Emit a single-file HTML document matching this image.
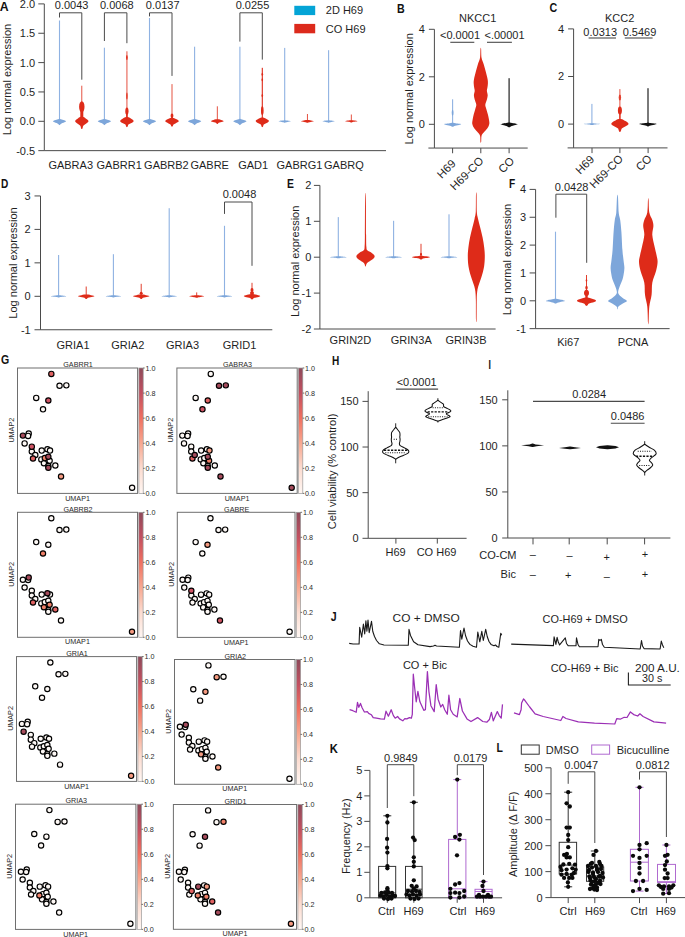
<!DOCTYPE html>
<html><head><meta charset="utf-8"><style>
html,body{margin:0;padding:0;background:#fff;width:685px;height:937px;overflow:hidden}
svg{display:block}
text{font-family:"Liberation Sans", sans-serif}
</style></head><body>
<svg width="685" height="937" viewBox="0 0 685 937">
<rect width="685" height="937" fill="#fff"/>
<text x="-0.20" y="10.89" font-size="12.2" text-anchor="start" font-weight="bold" fill="#111" textLength="8.9" lengthAdjust="spacingAndGlyphs">A</text>
<line x1="44.30" y1="3.90" x2="44.30" y2="150.65" stroke="#4a4a4a" stroke-width="1.0"/>
<line x1="38.30" y1="3.90" x2="44.30" y2="3.90" stroke="#4a4a4a" stroke-width="1.0"/>
<text x="35.10" y="7.86" font-size="11" text-anchor="end" font-weight="normal" fill="#1f1f1f">2.0</text>
<line x1="38.30" y1="33.25" x2="44.30" y2="33.25" stroke="#4a4a4a" stroke-width="1.0"/>
<text x="35.10" y="37.21" font-size="11" text-anchor="end" font-weight="normal" fill="#1f1f1f">1.5</text>
<line x1="38.30" y1="62.60" x2="44.30" y2="62.60" stroke="#4a4a4a" stroke-width="1.0"/>
<text x="35.10" y="66.56" font-size="11" text-anchor="end" font-weight="normal" fill="#1f1f1f">1.0</text>
<line x1="38.30" y1="91.95" x2="44.30" y2="91.95" stroke="#4a4a4a" stroke-width="1.0"/>
<text x="35.10" y="95.91" font-size="11" text-anchor="end" font-weight="normal" fill="#1f1f1f">0.5</text>
<line x1="38.30" y1="121.30" x2="44.30" y2="121.30" stroke="#4a4a4a" stroke-width="1.0"/>
<text x="35.10" y="125.26" font-size="11" text-anchor="end" font-weight="normal" fill="#1f1f1f">0.0</text>
<line x1="38.30" y1="150.65" x2="44.30" y2="150.65" stroke="#4a4a4a" stroke-width="1.0"/>
<text x="35.10" y="154.61" font-size="11" text-anchor="end" font-weight="normal" fill="#1f1f1f">-0.5</text>
<line x1="44.30" y1="150.65" x2="386.00" y2="150.65" stroke="#4a4a4a" stroke-width="1.0"/>
<text x="6.60" y="83.46" font-size="11" text-anchor="middle" font-weight="normal" fill="#1f1f1f" transform="rotate(-90 6.60 79.50)">Log normal expression</text>
<text x="70.70" y="168.76" font-size="11" text-anchor="middle" font-weight="normal" fill="#1f1f1f">GABRA3</text>
<text x="119.20" y="168.76" font-size="11" text-anchor="middle" font-weight="normal" fill="#1f1f1f">GABRR1</text>
<text x="166.40" y="168.76" font-size="11" text-anchor="middle" font-weight="normal" fill="#1f1f1f">GABRB2</text>
<text x="209.70" y="168.76" font-size="11" text-anchor="middle" font-weight="normal" fill="#1f1f1f">GABRE</text>
<text x="253.20" y="168.76" font-size="11" text-anchor="middle" font-weight="normal" fill="#1f1f1f">GAD1</text>
<text x="299.50" y="168.76" font-size="11" text-anchor="middle" font-weight="normal" fill="#1f1f1f">GABRG1</text>
<text x="343.90" y="168.76" font-size="11" text-anchor="middle" font-weight="normal" fill="#1f1f1f">GABRQ</text>
<rect x="58.95" y="20.50" width="1.10" height="100.80" fill="#8fb2e2" fill-opacity="1.0"/>
<path d="M60.09 118.90 C60.58 119.02 61.00 119.33 61.81 119.60 C62.62 119.87 64.26 120.22 64.98 120.50 C65.69 120.78 66.18 121.02 66.10 121.30 C66.02 121.58 65.13 121.90 64.52 122.20 C63.90 122.50 63.02 122.80 62.40 123.10 C61.79 123.40 61.25 123.67 60.82 124.00 C60.39 124.33 60.10 124.92 59.83 125.10 C59.55 125.28 59.45 125.28 59.17 125.10 C58.90 124.92 58.61 124.33 58.18 124.00 C57.75 123.67 57.21 123.40 56.60 123.10 C55.98 122.80 55.10 122.50 54.48 122.20 C53.87 121.90 52.98 121.58 52.90 121.30 C52.82 121.02 53.31 120.78 54.02 120.50 C54.74 120.22 56.38 119.87 57.19 119.60 C58.00 119.33 58.42 119.02 58.91 118.90 C59.39 118.78 59.61 118.78 60.09 118.90 Z" fill="#7da6da" stroke="none" stroke-width="0" stroke-linejoin="round"/>
<rect x="103.85" y="47.70" width="1.10" height="73.60" fill="#8fb2e2" fill-opacity="1.0"/>
<path d="M104.99 118.90 C105.48 119.02 105.90 119.33 106.71 119.60 C107.52 119.87 109.16 120.22 109.88 120.50 C110.59 120.78 111.08 121.02 111.00 121.30 C110.92 121.58 110.03 121.90 109.42 122.20 C108.80 122.50 107.92 122.80 107.30 123.10 C106.69 123.40 106.15 123.67 105.72 124.00 C105.29 124.33 105.00 124.92 104.73 125.10 C104.46 125.28 104.34 125.28 104.07 125.10 C103.80 124.92 103.51 124.33 103.08 124.00 C102.65 123.67 102.11 123.40 101.50 123.10 C100.88 122.80 100.00 122.50 99.38 122.20 C98.77 121.90 97.88 121.58 97.80 121.30 C97.72 121.02 98.21 120.78 98.92 120.50 C99.64 120.22 101.28 119.87 102.09 119.60 C102.90 119.33 103.32 119.02 103.81 118.90 C104.29 118.78 104.51 118.78 104.99 118.90 Z" fill="#7da6da" stroke="none" stroke-width="0" stroke-linejoin="round"/>
<rect x="148.95" y="18.00" width="1.10" height="103.30" fill="#8fb2e2" fill-opacity="1.0"/>
<path d="M150.09 118.90 C150.58 119.02 151.00 119.33 151.81 119.60 C152.62 119.87 154.26 120.22 154.98 120.50 C155.69 120.78 156.18 121.02 156.10 121.30 C156.02 121.58 155.13 121.90 154.52 122.20 C153.90 122.50 153.02 122.80 152.40 123.10 C151.79 123.40 151.25 123.67 150.82 124.00 C150.39 124.33 150.11 124.92 149.83 125.10 C149.56 125.28 149.44 125.28 149.17 125.10 C148.89 124.92 148.61 124.33 148.18 124.00 C147.75 123.67 147.21 123.40 146.60 123.10 C145.98 122.80 145.10 122.50 144.48 122.20 C143.87 121.90 142.98 121.58 142.90 121.30 C142.82 121.02 143.31 120.78 144.02 120.50 C144.74 120.22 146.38 119.87 147.19 119.60 C148.00 119.33 148.42 119.02 148.91 118.90 C149.39 118.78 149.61 118.78 150.09 118.90 Z" fill="#7da6da" stroke="none" stroke-width="0" stroke-linejoin="round"/>
<rect x="194.05" y="46.70" width="1.10" height="74.60" fill="#8fb2e2" fill-opacity="1.0"/>
<path d="M195.19 118.90 C195.68 119.02 196.10 119.33 196.91 119.60 C197.72 119.87 199.36 120.22 200.08 120.50 C200.79 120.78 201.28 121.02 201.20 121.30 C201.12 121.58 200.23 121.90 199.62 122.20 C199.00 122.50 198.12 122.80 197.50 123.10 C196.89 123.40 196.35 123.67 195.92 124.00 C195.49 124.33 195.21 124.92 194.93 125.10 C194.66 125.28 194.54 125.28 194.27 125.10 C193.99 124.92 193.71 124.33 193.28 124.00 C192.85 123.67 192.31 123.40 191.70 123.10 C191.08 122.80 190.20 122.50 189.58 122.20 C188.97 121.90 188.08 121.58 188.00 121.30 C187.92 121.02 188.41 120.78 189.12 120.50 C189.84 120.22 191.48 119.87 192.29 119.60 C193.10 119.33 193.52 119.02 194.01 118.90 C194.49 118.78 194.71 118.78 195.19 118.90 Z" fill="#7da6da" stroke="none" stroke-width="0" stroke-linejoin="round"/>
<rect x="239.35" y="46.70" width="1.10" height="74.60" fill="#8fb2e2" fill-opacity="1.0"/>
<path d="M240.49 118.90 C240.98 119.02 241.40 119.33 242.21 119.60 C243.02 119.87 244.66 120.22 245.38 120.50 C246.09 120.78 246.58 121.02 246.50 121.30 C246.42 121.58 245.53 121.90 244.92 122.20 C244.30 122.50 243.42 122.80 242.80 123.10 C242.19 123.40 241.65 123.67 241.22 124.00 C240.79 124.33 240.51 124.92 240.23 125.10 C239.96 125.28 239.84 125.28 239.57 125.10 C239.29 124.92 239.01 124.33 238.58 124.00 C238.15 123.67 237.61 123.40 237.00 123.10 C236.38 122.80 235.50 122.50 234.88 122.20 C234.27 121.90 233.38 121.58 233.30 121.30 C233.22 121.02 233.71 120.78 234.42 120.50 C235.14 120.22 236.78 119.87 237.59 119.60 C238.40 119.33 238.82 119.02 239.31 118.90 C239.79 118.78 240.01 118.78 240.49 118.90 Z" fill="#7da6da" stroke="none" stroke-width="0" stroke-linejoin="round"/>
<rect x="284.15" y="47.90" width="1.10" height="73.40" fill="#8fb2e2" fill-opacity="1.0"/>
<path d="M285.27 120.22 C285.73 120.27 286.13 120.41 286.90 120.53 C287.68 120.66 289.25 120.81 289.93 120.94 C290.61 121.07 291.07 121.19 291.00 121.30 C290.93 121.41 290.08 121.51 289.49 121.61 C288.90 121.72 288.06 121.82 287.47 121.93 C286.88 122.03 286.37 122.13 285.96 122.24 C285.55 122.36 285.28 122.57 285.01 122.63 C284.75 122.69 284.65 122.69 284.38 122.63 C284.12 122.57 283.85 122.36 283.44 122.24 C283.03 122.13 282.52 122.03 281.93 121.93 C281.34 121.82 280.50 121.72 279.91 121.61 C279.32 121.51 278.47 121.41 278.40 121.30 C278.33 121.19 278.79 121.07 279.47 120.94 C280.15 120.81 281.72 120.66 282.50 120.53 C283.27 120.41 283.67 120.27 284.13 120.22 C284.59 120.17 284.81 120.17 285.27 120.22 Z" fill="#7da6da" stroke="none" stroke-width="0" stroke-linejoin="round"/>
<rect x="328.05" y="50.20" width="1.10" height="71.10" fill="#8fb2e2" fill-opacity="1.0"/>
<path d="M329.17 120.22 C329.63 120.27 330.03 120.41 330.81 120.53 C331.58 120.66 333.15 120.81 333.83 120.94 C334.51 121.07 334.97 121.19 334.90 121.30 C334.83 121.41 333.98 121.51 333.39 121.61 C332.80 121.72 331.96 121.82 331.37 121.93 C330.78 122.03 330.27 122.13 329.86 122.24 C329.45 122.36 329.18 122.57 328.92 122.63 C328.65 122.69 328.55 122.69 328.29 122.63 C328.02 122.57 327.75 122.36 327.34 122.24 C326.93 122.13 326.42 122.03 325.83 121.93 C325.24 121.82 324.40 121.72 323.81 121.61 C323.22 121.51 322.37 121.41 322.30 121.30 C322.23 121.19 322.69 121.07 323.37 120.94 C324.05 120.81 325.62 120.66 326.40 120.53 C327.17 120.41 327.57 120.27 328.03 120.22 C328.50 120.17 328.71 120.17 329.17 120.22 Z" fill="#7da6da" stroke="none" stroke-width="0" stroke-linejoin="round"/>
<rect x="81.35" y="85.70" width="0.90" height="35.60" fill="#e2402e" fill-opacity="1.0"/>
<ellipse cx="81.80" cy="106.80" rx="2.70" ry="5.60" fill="#de2b19"/>
<rect x="80.30" y="110.00" width="3.00" height="8.00" fill="#de2b19" fill-opacity="1.0"/>
<path d="M83.47 117.00 C84.40 117.23 84.96 117.92 85.69 118.40 C86.41 118.88 87.36 119.42 87.83 119.90 C88.30 120.38 88.59 120.82 88.50 121.30 C88.41 121.78 87.84 122.30 87.29 122.80 C86.75 123.30 85.89 123.82 85.22 124.30 C84.55 124.78 83.68 125.22 83.27 125.70 C82.87 126.18 82.98 126.67 82.80 127.20 C82.63 127.73 82.44 128.62 82.20 128.90 C81.97 129.18 81.63 129.18 81.40 128.90 C81.16 128.62 80.97 127.73 80.80 127.20 C80.62 126.67 80.73 126.18 80.33 125.70 C79.92 125.22 79.05 124.78 78.38 124.30 C77.71 123.82 76.85 123.30 76.31 122.80 C75.76 122.30 75.19 121.78 75.10 121.30 C75.01 120.82 75.30 120.38 75.77 119.90 C76.24 119.42 77.19 118.88 77.91 118.40 C78.64 117.92 79.20 117.23 80.12 117.00 C81.05 116.77 82.55 116.77 83.47 117.00 Z" fill="#de2b19" stroke="none" stroke-width="0" stroke-linejoin="round"/>
<rect x="126.25" y="51.30" width="1.30" height="70.00" fill="#e2402e" fill-opacity="0.7"/>
<ellipse cx="126.90" cy="57.50" rx="0.80" ry="2.50" fill="#de2b19"/>
<ellipse cx="126.90" cy="96.00" rx="0.80" ry="3.50" fill="#e2402e"/>
<ellipse cx="126.90" cy="111.20" rx="1.60" ry="3.60" fill="#de2b19"/>
<rect x="126.10" y="113.00" width="1.60" height="5.00" fill="#de2b19" fill-opacity="1.0"/>
<path d="M128.60 117.22 C129.54 117.44 130.11 118.09 130.84 118.55 C131.58 119.00 132.54 119.51 133.02 119.97 C133.50 120.43 133.79 120.89 133.70 121.30 C133.61 121.71 133.03 122.05 132.48 122.42 C131.92 122.80 131.05 123.19 130.37 123.55 C129.69 123.91 128.80 124.24 128.40 124.60 C127.99 124.96 128.10 125.32 127.92 125.72 C127.74 126.12 127.55 126.79 127.31 127.00 C127.07 127.21 126.73 127.21 126.49 127.00 C126.25 126.79 126.06 126.12 125.88 125.72 C125.70 125.32 125.81 124.96 125.40 124.60 C125.00 124.24 124.11 123.91 123.43 123.55 C122.75 123.19 121.88 122.80 121.32 122.42 C120.77 122.05 120.19 121.71 120.10 121.30 C120.01 120.89 120.30 120.43 120.78 119.97 C121.26 119.51 122.22 119.00 122.96 118.55 C123.69 118.09 124.26 117.44 125.20 117.22 C126.14 116.99 127.66 116.99 128.60 117.22 Z" fill="#de2b19" stroke="none" stroke-width="0" stroke-linejoin="round"/>
<rect x="171.55" y="84.10" width="0.90" height="37.20" fill="#e2402e" fill-opacity="1.0"/>
<ellipse cx="172.00" cy="115.70" rx="1.40" ry="2.20" fill="#de2b19"/>
<rect x="171.30" y="116.00" width="1.40" height="2.00" fill="#de2b19" fill-opacity="1.0"/>
<path d="M173.70 118.08 C174.64 118.25 175.21 118.76 175.94 119.12 C176.68 119.49 177.64 119.89 178.12 120.25 C178.60 120.61 178.89 120.95 178.80 121.30 C178.71 121.65 178.13 122.00 177.58 122.35 C177.02 122.70 176.15 123.06 175.47 123.40 C174.79 123.74 173.90 124.04 173.50 124.38 C173.09 124.72 173.20 125.06 173.02 125.43 C172.84 125.80 172.65 126.42 172.41 126.62 C172.17 126.82 171.83 126.82 171.59 126.62 C171.35 126.42 171.16 125.80 170.98 125.43 C170.80 125.06 170.91 124.72 170.50 124.38 C170.10 124.04 169.21 123.74 168.53 123.40 C167.85 123.06 166.98 122.70 166.42 122.35 C165.87 122.00 165.29 121.65 165.20 121.30 C165.11 120.95 165.40 120.61 165.88 120.25 C166.36 119.89 167.32 119.49 168.06 119.12 C168.79 118.76 169.36 118.25 170.30 118.08 C171.24 117.90 172.76 117.90 173.70 118.08 Z" fill="#de2b19" stroke="none" stroke-width="0" stroke-linejoin="round"/>
<rect x="216.85" y="106.30" width="0.90" height="15.00" fill="#e2402e" fill-opacity="1.0"/>
<path d="M218.90 119.36 C219.79 119.47 220.32 119.78 221.01 119.99 C221.71 120.21 222.61 120.45 223.06 120.67 C223.51 120.89 223.79 121.11 223.70 121.30 C223.61 121.49 223.07 121.65 222.55 121.83 C222.03 122.00 221.20 122.18 220.56 122.35 C219.92 122.52 219.09 122.67 218.71 122.84 C218.32 123.01 218.43 123.18 218.26 123.36 C218.09 123.55 217.91 123.86 217.68 123.96 C217.46 124.06 217.14 124.06 216.92 123.96 C216.69 123.86 216.51 123.55 216.34 123.36 C216.17 123.18 216.28 123.01 215.89 122.84 C215.51 122.67 214.68 122.52 214.04 122.35 C213.40 122.18 212.57 122.00 212.05 121.83 C211.53 121.65 210.99 121.49 210.90 121.30 C210.81 121.11 211.09 120.89 211.54 120.67 C211.99 120.45 212.89 120.21 213.59 119.99 C214.28 119.78 214.81 119.47 215.70 119.36 C216.59 119.26 218.01 119.26 218.90 119.36 Z" fill="#de2b19" stroke="none" stroke-width="0" stroke-linejoin="round"/>
<rect x="261.75" y="67.80" width="1.10" height="53.50" fill="#de2b19" fill-opacity="1.0"/>
<ellipse cx="262.30" cy="74.20" rx="0.80" ry="1.50" fill="#de2b19"/>
<ellipse cx="262.30" cy="79.80" rx="0.80" ry="1.50" fill="#de2b19"/>
<ellipse cx="262.30" cy="95.40" rx="0.80" ry="1.50" fill="#de2b19"/>
<ellipse cx="262.30" cy="110.70" rx="1.30" ry="4.40" fill="#de2b19"/>
<path d="M263.95 117.64 C264.86 117.84 265.41 118.42 266.13 118.83 C266.84 119.25 267.78 119.70 268.24 120.11 C268.70 120.52 268.99 120.91 268.90 121.30 C268.81 121.69 268.25 122.05 267.71 122.42 C267.17 122.80 266.33 123.19 265.67 123.55 C265.01 123.91 264.15 124.24 263.75 124.60 C263.36 124.96 263.47 125.32 263.29 125.72 C263.11 126.12 262.93 126.79 262.70 127.00 C262.47 127.21 262.13 127.21 261.90 127.00 C261.67 126.79 261.49 126.12 261.31 125.72 C261.13 125.32 261.24 124.96 260.85 124.60 C260.45 124.24 259.59 123.91 258.93 123.55 C258.27 123.19 257.43 122.80 256.89 122.42 C256.35 122.05 255.79 121.69 255.70 121.30 C255.61 120.91 255.90 120.52 256.36 120.11 C256.82 119.70 257.76 119.25 258.47 118.83 C259.19 118.42 259.74 117.84 260.65 117.64 C261.56 117.45 263.04 117.45 263.95 117.64 Z" fill="#de2b19" stroke="none" stroke-width="0" stroke-linejoin="round"/>
<rect x="306.95" y="114.00" width="0.90" height="7.30" fill="#e2402e" fill-opacity="1.0"/>
<path d="M309.00 120.01 C309.89 120.08 310.42 120.28 311.11 120.43 C311.81 120.57 312.71 120.73 313.16 120.88 C313.61 121.02 313.89 121.18 313.80 121.30 C313.71 121.42 313.17 121.50 312.65 121.60 C312.13 121.70 311.30 121.80 310.66 121.90 C310.02 122.00 309.19 122.08 308.81 122.18 C308.42 122.28 308.53 122.37 308.36 122.48 C308.19 122.59 308.01 122.76 307.78 122.82 C307.56 122.88 307.24 122.88 307.02 122.82 C306.79 122.76 306.61 122.59 306.44 122.48 C306.27 122.37 306.38 122.28 305.99 122.18 C305.61 122.08 304.78 122.00 304.14 121.90 C303.50 121.80 302.67 121.70 302.15 121.60 C301.63 121.50 301.09 121.42 301.00 121.30 C300.91 121.18 301.19 121.02 301.64 120.88 C302.09 120.73 302.99 120.57 303.69 120.43 C304.38 120.28 304.91 120.08 305.80 120.01 C306.69 119.94 308.11 119.94 309.00 120.01 Z" fill="#de2b19" stroke="none" stroke-width="0" stroke-linejoin="round"/>
<rect x="350.85" y="114.50" width="0.90" height="6.80" fill="#e2402e" fill-opacity="1.0"/>
<path d="M352.90 120.22 C353.79 120.28 354.32 120.45 355.01 120.58 C355.71 120.70 356.61 120.83 357.06 120.95 C357.51 121.07 357.79 121.20 357.70 121.30 C357.61 121.40 357.07 121.45 356.55 121.52 C356.03 121.60 355.20 121.68 354.56 121.75 C353.92 121.82 353.09 121.89 352.71 121.96 C352.32 122.03 352.43 122.11 352.26 122.19 C352.09 122.27 351.91 122.40 351.68 122.44 C351.46 122.48 351.14 122.48 350.92 122.44 C350.69 122.40 350.51 122.27 350.34 122.19 C350.17 122.11 350.28 122.03 349.89 121.96 C349.51 121.89 348.68 121.82 348.04 121.75 C347.40 121.68 346.57 121.60 346.05 121.52 C345.53 121.45 344.99 121.40 344.90 121.30 C344.81 121.20 345.09 121.07 345.54 120.95 C345.99 120.83 346.89 120.70 347.59 120.58 C348.28 120.45 348.81 120.28 349.70 120.22 C350.59 120.17 352.01 120.17 352.90 120.22 Z" fill="#de2b19" stroke="none" stroke-width="0" stroke-linejoin="round"/>
<path d="M59.50 17.50 L59.50 12.80 L81.80 12.80 L81.80 79.70" stroke="#4a4a4a" stroke-width="1.0" fill="none" stroke-linejoin="round"/>
<text x="71.60" y="8.76" font-size="11" text-anchor="middle" font-weight="normal" fill="#1f1f1f">0.0043</text>
<path d="M104.40 41.00 L104.40 12.80 L126.90 12.80 L126.90 43.20" stroke="#4a4a4a" stroke-width="1.0" fill="none" stroke-linejoin="round"/>
<text x="116.80" y="8.76" font-size="11" text-anchor="middle" font-weight="normal" fill="#1f1f1f">0.0068</text>
<path d="M149.50 16.40 L149.50 12.80 L172.00 12.80 L172.00 75.90" stroke="#4a4a4a" stroke-width="1.0" fill="none" stroke-linejoin="round"/>
<text x="162.70" y="8.76" font-size="11" text-anchor="middle" font-weight="normal" fill="#1f1f1f">0.0137</text>
<path d="M239.90 41.60 L239.90 12.80 L262.30 12.80 L262.30 59.60" stroke="#4a4a4a" stroke-width="1.0" fill="none" stroke-linejoin="round"/>
<text x="252.50" y="8.76" font-size="11" text-anchor="middle" font-weight="normal" fill="#1f1f1f">0.0255</text>
<rect x="294.3" y="5.8" width="20.9" height="9.3" fill="#04a4d6"/>
<rect x="294.3" y="23.9" width="20.9" height="9.4" fill="#dc2a1c"/>
<text x="325.80" y="14.46" font-size="11" text-anchor="start" font-weight="normal" fill="#1f1f1f">2D H69</text>
<text x="325.80" y="32.86" font-size="11" text-anchor="start" font-weight="normal" fill="#1f1f1f">CO H69</text>
<text x="397.00" y="12.79" font-size="12.2" text-anchor="start" font-weight="bold" fill="#111" textLength="7.7" lengthAdjust="spacingAndGlyphs">B</text>
<text x="477.70" y="21.96" font-size="11" text-anchor="middle" font-weight="normal" fill="#1f1f1f">NKCC1</text>
<line x1="434.40" y1="29.30" x2="434.40" y2="148.05" stroke="#4a4a4a" stroke-width="1.0"/>
<line x1="428.90" y1="29.30" x2="434.40" y2="29.30" stroke="#4a4a4a" stroke-width="1.0"/>
<text x="424.90" y="33.26" font-size="11" text-anchor="end" font-weight="normal" fill="#1f1f1f">4</text>
<line x1="428.90" y1="76.80" x2="434.40" y2="76.80" stroke="#4a4a4a" stroke-width="1.0"/>
<text x="424.90" y="80.76" font-size="11" text-anchor="end" font-weight="normal" fill="#1f1f1f">2</text>
<line x1="428.90" y1="124.30" x2="434.40" y2="124.30" stroke="#4a4a4a" stroke-width="1.0"/>
<text x="424.90" y="128.26" font-size="11" text-anchor="end" font-weight="normal" fill="#1f1f1f">0</text>
<line x1="434.40" y1="148.05" x2="527.70" y2="148.05" stroke="#4a4a4a" stroke-width="1.0"/>
<line x1="452.60" y1="148.05" x2="452.60" y2="153.25" stroke="#4a4a4a" stroke-width="1.0"/>
<line x1="480.80" y1="148.05" x2="480.80" y2="153.25" stroke="#4a4a4a" stroke-width="1.0"/>
<line x1="509.10" y1="148.05" x2="509.10" y2="153.25" stroke="#4a4a4a" stroke-width="1.0"/>
<text x="409.20" y="92.76" font-size="11" text-anchor="middle" font-weight="normal" fill="#1f1f1f" transform="rotate(-90 409.20 88.80)">Log normal expression</text>
<line x1="428.40" y1="148.05" x2="434.40" y2="148.05" stroke="#4a4a4a" stroke-width="1.0"/>
<text x="456.60" y="164.35" font-size="11.4" text-anchor="end" fill="#1f1f1f" transform="rotate(-45 456.60 164.35)">H69</text>
<text x="484.40" y="161.55" font-size="11.4" text-anchor="end" fill="#1f1f1f" transform="rotate(-45 484.40 161.55)">H69-CO</text>
<text x="515.10" y="161.75" font-size="11.4" text-anchor="end" fill="#1f1f1f" transform="rotate(-45 515.10 161.75)">CO</text>
<text x="460.00" y="38.96" font-size="11" text-anchor="middle" font-weight="normal" fill="#1f1f1f">&lt;0.0001</text>
<line x1="450.30" y1="42.30" x2="474.30" y2="42.30" stroke="#4a4a4a" stroke-width="1.1"/>
<text x="504.50" y="38.96" font-size="11" text-anchor="middle" font-weight="normal" fill="#1f1f1f">&lt;.00001</text>
<line x1="487.00" y1="42.30" x2="511.90" y2="42.30" stroke="#4a4a4a" stroke-width="1.1"/>
<rect x="452.05" y="99.30" width="1.10" height="25.00" fill="#8fb2e2" fill-opacity="1.0"/>
<ellipse cx="452.60" cy="112.80" rx="0.90" ry="3.00" fill="#7da6da"/>
<path d="M453.37 122.86 C453.99 122.93 454.53 123.12 455.58 123.28 C456.62 123.44 458.73 123.65 459.66 123.82 C460.58 123.99 461.20 124.12 461.10 124.30 C461.00 124.48 459.85 124.69 459.06 124.88 C458.27 125.08 457.13 125.28 456.34 125.47 C455.55 125.66 454.85 125.84 454.30 126.05 C453.75 126.27 453.38 126.65 453.03 126.77 C452.67 126.89 452.53 126.89 452.18 126.77 C451.82 126.65 451.45 126.27 450.90 126.05 C450.35 125.84 449.65 125.66 448.86 125.47 C448.07 125.28 446.93 125.08 446.14 124.88 C445.35 124.69 444.20 124.48 444.10 124.30 C444.00 124.12 444.62 123.99 445.55 123.82 C446.47 123.65 448.58 123.44 449.62 123.28 C450.67 123.12 451.21 122.93 451.84 122.86 C452.46 122.79 452.74 122.79 453.37 122.86 Z" fill="#7da6da" stroke="none" stroke-width="0" stroke-linejoin="round"/>
<path d="M481.10 48.80 C481.28 50.30 481.12 55.23 481.55 57.80 C481.98 60.37 482.99 61.88 483.70 64.20 C484.41 66.52 485.15 69.20 485.80 71.70 C486.45 74.20 487.25 77.25 487.60 79.20 C487.95 81.15 487.93 81.98 487.90 83.40 C487.87 84.82 487.57 86.45 487.40 87.70 C487.23 88.95 486.85 89.65 486.90 90.90 C486.95 92.15 487.70 93.78 487.70 95.20 C487.70 96.62 487.30 97.80 486.90 99.40 C486.50 101.00 485.40 103.20 485.30 104.80 C485.20 106.40 485.87 107.40 486.30 109.00 C486.73 110.60 487.45 112.62 487.90 114.40 C488.35 116.18 488.77 118.10 489.00 119.70 C489.23 121.30 489.57 122.57 489.30 124.00 C489.03 125.43 488.33 126.88 487.40 128.30 C486.47 129.72 484.68 131.27 483.70 132.50 C482.72 133.73 481.98 134.10 481.55 135.70 C481.12 137.30 481.33 141.03 481.15 142.10 C480.97 143.17 480.63 143.17 480.45 142.10 C480.27 141.03 480.48 137.30 480.05 135.70 C479.62 134.10 478.88 133.73 477.90 132.50 C476.93 131.27 475.13 129.72 474.20 128.30 C473.27 126.88 472.57 125.43 472.30 124.00 C472.03 122.57 472.37 121.30 472.60 119.70 C472.83 118.10 473.25 116.18 473.70 114.40 C474.15 112.62 474.87 110.60 475.30 109.00 C475.73 107.40 476.40 106.40 476.30 104.80 C476.20 103.20 475.10 101.00 474.70 99.40 C474.30 97.80 473.90 96.62 473.90 95.20 C473.90 93.78 474.65 92.15 474.70 90.90 C474.75 89.65 474.37 88.95 474.20 87.70 C474.03 86.45 473.73 84.82 473.70 83.40 C473.67 81.98 473.65 81.15 474.00 79.20 C474.35 77.25 475.15 74.20 475.80 71.70 C476.45 69.20 477.19 66.52 477.90 64.20 C478.61 61.88 479.62 60.37 480.05 57.80 C480.48 55.23 480.32 50.30 480.50 48.80 C480.68 47.30 480.93 47.30 481.10 48.80 Z" fill="#de2b19" stroke="none" stroke-width="0" stroke-linejoin="round"/>
<rect x="508.45" y="78.20" width="1.30" height="46.10" fill="#333" fill-opacity="1.0"/>
<path d="M509.87 122.50 C510.49 122.59 511.03 122.82 512.08 123.02 C513.12 123.22 515.23 123.49 516.15 123.70 C517.08 123.91 517.70 124.08 517.60 124.30 C517.50 124.52 516.35 124.78 515.56 125.02 C514.77 125.26 513.63 125.50 512.84 125.74 C512.05 125.98 511.35 126.19 510.80 126.46 C510.25 126.73 509.88 127.19 509.53 127.34 C509.17 127.49 509.03 127.49 508.68 127.34 C508.32 127.19 507.95 126.73 507.40 126.46 C506.85 126.19 506.15 125.98 505.36 125.74 C504.57 125.50 503.43 125.26 502.64 125.02 C501.85 124.78 500.70 124.52 500.60 124.30 C500.50 124.08 501.12 123.91 502.05 123.70 C502.97 123.49 505.08 123.22 506.12 123.02 C507.17 122.82 507.71 122.59 508.34 122.50 C508.96 122.41 509.24 122.41 509.87 122.50 Z" fill="#111" stroke="none" stroke-width="0" stroke-linejoin="round"/>
<text x="549.40" y="11.99" font-size="12.2" text-anchor="start" font-weight="bold" fill="#111" textLength="7.7" lengthAdjust="spacingAndGlyphs">C</text>
<text x="619.60" y="21.96" font-size="11" text-anchor="middle" font-weight="normal" fill="#1f1f1f">KCC2</text>
<line x1="573.60" y1="28.90" x2="573.60" y2="147.90" stroke="#4a4a4a" stroke-width="1.0"/>
<line x1="568.10" y1="28.90" x2="573.60" y2="28.90" stroke="#4a4a4a" stroke-width="1.0"/>
<text x="564.10" y="32.86" font-size="11" text-anchor="end" font-weight="normal" fill="#1f1f1f">4</text>
<line x1="568.10" y1="76.50" x2="573.60" y2="76.50" stroke="#4a4a4a" stroke-width="1.0"/>
<text x="564.10" y="80.46" font-size="11" text-anchor="end" font-weight="normal" fill="#1f1f1f">2</text>
<line x1="568.10" y1="124.10" x2="573.60" y2="124.10" stroke="#4a4a4a" stroke-width="1.0"/>
<text x="564.10" y="128.06" font-size="11" text-anchor="end" font-weight="normal" fill="#1f1f1f">0</text>
<line x1="573.60" y1="147.90" x2="667.50" y2="147.90" stroke="#4a4a4a" stroke-width="1.0"/>
<line x1="592.00" y1="147.90" x2="592.00" y2="153.10" stroke="#4a4a4a" stroke-width="1.0"/>
<line x1="619.90" y1="147.90" x2="619.90" y2="153.10" stroke="#4a4a4a" stroke-width="1.0"/>
<line x1="648.10" y1="147.90" x2="648.10" y2="153.10" stroke="#4a4a4a" stroke-width="1.0"/>
<line x1="567.60" y1="147.90" x2="573.60" y2="147.90" stroke="#4a4a4a" stroke-width="1.0"/>
<text x="595.00" y="160.10" font-size="11.4" text-anchor="end" fill="#1f1f1f" transform="rotate(-45 595.00 160.10)">H69</text>
<text x="623.90" y="159.40" font-size="11.4" text-anchor="end" fill="#1f1f1f" transform="rotate(-45 623.90 159.40)">H69-CO</text>
<text x="652.60" y="159.40" font-size="11.4" text-anchor="end" fill="#1f1f1f" transform="rotate(-45 652.60 159.40)">CO</text>
<text x="600.20" y="36.06" font-size="11" text-anchor="middle" font-weight="normal" fill="#1f1f1f">0.0313</text>
<line x1="588.60" y1="38.00" x2="616.00" y2="38.00" stroke="#4a4a4a" stroke-width="1.1"/>
<text x="639.50" y="36.06" font-size="11" text-anchor="middle" font-weight="normal" fill="#1f1f1f">0.5469</text>
<line x1="624.80" y1="38.00" x2="652.60" y2="38.00" stroke="#4a4a4a" stroke-width="1.1"/>
<rect x="591.35" y="103.90" width="1.10" height="20.20" fill="#8fb2e2" fill-opacity="1.0"/>
<path d="M592.66 123.26 C593.29 123.30 593.83 123.41 594.88 123.50 C595.92 123.60 598.03 123.72 598.95 123.82 C599.88 123.92 600.50 124.02 600.40 124.10 C600.30 124.18 599.15 124.25 598.36 124.32 C597.57 124.40 596.43 124.47 595.64 124.55 C594.85 124.62 594.15 124.69 593.60 124.77 C593.05 124.86 592.68 125.00 592.32 125.05 C591.97 125.10 591.83 125.10 591.48 125.05 C591.12 125.00 590.75 124.86 590.20 124.77 C589.65 124.69 588.95 124.62 588.16 124.55 C587.37 124.47 586.23 124.40 585.44 124.32 C584.65 124.25 583.50 124.18 583.40 124.10 C583.30 124.02 583.92 123.92 584.85 123.82 C585.77 123.72 587.88 123.60 588.92 123.50 C589.97 123.41 590.51 123.30 591.13 123.26 C591.76 123.22 592.04 123.22 592.66 123.26 Z" fill="#7da6da" stroke="none" stroke-width="0" stroke-linejoin="round"/>
<rect x="619.45" y="89.10" width="0.90" height="35.00" fill="#e2402e" fill-opacity="1.0"/>
<ellipse cx="619.90" cy="97.50" rx="1.20" ry="3.00" fill="#e2402e"/>
<ellipse cx="619.90" cy="110.60" rx="2.00" ry="4.00" fill="#de2b19"/>
<rect x="619.30" y="113.00" width="1.20" height="6.00" fill="#de2b19" fill-opacity="1.0"/>
<path d="M622.05 119.16 C623.24 119.42 623.96 120.21 624.89 120.77 C625.82 121.32 627.04 121.93 627.64 122.49 C628.24 123.05 628.61 123.58 628.50 124.10 C628.39 124.62 627.65 125.10 626.95 125.60 C626.25 126.10 625.15 126.62 624.29 127.10 C623.43 127.58 622.31 128.02 621.79 128.50 C621.28 128.98 621.42 129.47 621.19 130.00 C620.96 130.53 620.72 131.42 620.42 131.70 C620.12 131.98 619.68 131.98 619.38 131.70 C619.08 131.42 618.84 130.53 618.61 130.00 C618.38 129.47 618.52 128.98 618.01 128.50 C617.49 128.02 616.37 127.58 615.51 127.10 C614.65 126.62 613.55 126.10 612.85 125.60 C612.15 125.10 611.41 124.62 611.30 124.10 C611.19 123.58 611.56 123.05 612.16 122.49 C612.76 121.93 613.98 121.32 614.91 120.77 C615.84 120.21 616.56 119.42 617.75 119.16 C618.94 118.89 620.86 118.89 622.05 119.16 Z" fill="#de2b19" stroke="none" stroke-width="0" stroke-linejoin="round"/>
<rect x="647.35" y="88.20" width="1.30" height="35.90" fill="#333" fill-opacity="1.0"/>
<path d="M648.76 122.66 C649.39 122.73 649.93 122.92 650.98 123.08 C652.02 123.24 654.13 123.45 655.05 123.62 C655.98 123.79 656.60 123.93 656.50 124.10 C656.40 124.27 655.25 124.46 654.46 124.64 C653.67 124.82 652.53 125.00 651.74 125.18 C650.95 125.36 650.25 125.52 649.70 125.72 C649.15 125.92 648.78 126.27 648.42 126.38 C648.07 126.49 647.93 126.49 647.58 126.38 C647.22 126.27 646.85 125.92 646.30 125.72 C645.75 125.52 645.05 125.36 644.26 125.18 C643.47 125.00 642.33 124.82 641.54 124.64 C640.75 124.46 639.60 124.27 639.50 124.10 C639.40 123.93 640.02 123.79 640.95 123.62 C641.87 123.45 643.98 123.24 645.02 123.08 C646.07 122.92 646.61 122.73 647.24 122.66 C647.86 122.59 648.14 122.59 648.76 122.66 Z" fill="#111" stroke="none" stroke-width="0" stroke-linejoin="round"/>
<text x="1.00" y="187.89" font-size="12.2" text-anchor="start" font-weight="bold" fill="#111" textLength="7.3" lengthAdjust="spacingAndGlyphs">D</text>
<line x1="40.50" y1="195.95" x2="40.50" y2="329.75" stroke="#4a4a4a" stroke-width="1.0"/>
<line x1="34.50" y1="195.95" x2="40.50" y2="195.95" stroke="#4a4a4a" stroke-width="1.0"/>
<text x="30.70" y="199.91" font-size="11" text-anchor="end" font-weight="normal" fill="#1f1f1f">3</text>
<line x1="34.50" y1="229.40" x2="40.50" y2="229.40" stroke="#4a4a4a" stroke-width="1.0"/>
<text x="30.70" y="233.36" font-size="11" text-anchor="end" font-weight="normal" fill="#1f1f1f">2</text>
<line x1="34.50" y1="262.85" x2="40.50" y2="262.85" stroke="#4a4a4a" stroke-width="1.0"/>
<text x="30.70" y="266.81" font-size="11" text-anchor="end" font-weight="normal" fill="#1f1f1f">1</text>
<line x1="34.50" y1="296.30" x2="40.50" y2="296.30" stroke="#4a4a4a" stroke-width="1.0"/>
<text x="30.70" y="300.26" font-size="11" text-anchor="end" font-weight="normal" fill="#1f1f1f">0</text>
<line x1="34.50" y1="329.75" x2="40.50" y2="329.75" stroke="#4a4a4a" stroke-width="1.0"/>
<text x="30.70" y="333.71" font-size="11" text-anchor="end" font-weight="normal" fill="#1f1f1f">-1</text>
<line x1="40.50" y1="329.75" x2="272.30" y2="329.75" stroke="#4a4a4a" stroke-width="1.0"/>
<text x="12.70" y="266.96" font-size="11" text-anchor="middle" font-weight="normal" fill="#1f1f1f" transform="rotate(-90 12.70 263.00)">Log normal expression</text>
<text x="73.00" y="349.26" font-size="11" text-anchor="middle" font-weight="normal" fill="#1f1f1f">GRIA1</text>
<text x="127.80" y="349.26" font-size="11" text-anchor="middle" font-weight="normal" fill="#1f1f1f">GRIA2</text>
<text x="182.50" y="349.26" font-size="11" text-anchor="middle" font-weight="normal" fill="#1f1f1f">GRIA3</text>
<text x="239.50" y="349.26" font-size="11" text-anchor="middle" font-weight="normal" fill="#1f1f1f">GRID1</text>
<rect x="58.05" y="255.00" width="1.10" height="41.30" fill="#8fb2e2" fill-opacity="1.0"/>
<path d="M59.31 295.34 C59.89 295.39 60.39 295.51 61.37 295.62 C62.34 295.73 64.30 295.87 65.16 295.98 C66.01 296.09 66.59 296.20 66.50 296.30 C66.41 296.40 65.34 296.48 64.60 296.57 C63.87 296.66 62.81 296.75 62.08 296.84 C61.34 296.93 60.69 297.01 60.18 297.11 C59.67 297.21 59.32 297.38 59.00 297.44 C58.67 297.50 58.53 297.50 58.20 297.44 C57.88 297.38 57.53 297.21 57.02 297.11 C56.51 297.01 55.86 296.93 55.12 296.84 C54.39 296.75 53.33 296.66 52.60 296.57 C51.86 296.48 50.79 296.40 50.70 296.30 C50.61 296.20 51.19 296.09 52.04 295.98 C52.90 295.87 54.86 295.73 55.84 295.62 C56.81 295.51 57.31 295.39 57.89 295.34 C58.47 295.29 58.73 295.29 59.31 295.34 Z" fill="#7da6da" stroke="none" stroke-width="0" stroke-linejoin="round"/>
<rect x="112.85" y="254.20" width="1.10" height="42.10" fill="#8fb2e2" fill-opacity="1.0"/>
<path d="M114.11 295.34 C114.69 295.39 115.19 295.51 116.17 295.62 C117.14 295.73 119.10 295.87 119.96 295.98 C120.81 296.09 121.39 296.20 121.30 296.30 C121.21 296.40 120.14 296.48 119.40 296.57 C118.67 296.66 117.61 296.75 116.88 296.84 C116.14 296.93 115.49 297.01 114.98 297.11 C114.47 297.21 114.12 297.38 113.80 297.44 C113.47 297.50 113.33 297.50 113.01 297.44 C112.68 297.38 112.33 297.21 111.82 297.11 C111.31 297.01 110.66 296.93 109.92 296.84 C109.19 296.75 108.13 296.66 107.40 296.57 C106.66 296.48 105.59 296.40 105.50 296.30 C105.41 296.20 105.99 296.09 106.84 295.98 C107.70 295.87 109.66 295.73 110.64 295.62 C111.61 295.51 112.11 295.39 112.69 295.34 C113.27 295.29 113.53 295.29 114.11 295.34 Z" fill="#7da6da" stroke="none" stroke-width="0" stroke-linejoin="round"/>
<rect x="168.65" y="208.20" width="1.10" height="88.10" fill="#8fb2e2" fill-opacity="1.0"/>
<path d="M169.91 295.34 C170.49 295.39 170.99 295.51 171.96 295.62 C172.94 295.73 174.90 295.87 175.76 295.98 C176.61 296.09 177.19 296.20 177.10 296.30 C177.01 296.40 175.94 296.48 175.20 296.57 C174.47 296.66 173.41 296.75 172.68 296.84 C171.94 296.93 171.29 297.01 170.78 297.11 C170.27 297.21 169.92 297.38 169.59 297.44 C169.27 297.50 169.13 297.50 168.80 297.44 C168.48 297.38 168.13 297.21 167.62 297.11 C167.11 297.01 166.46 296.93 165.72 296.84 C164.99 296.75 163.93 296.66 163.20 296.57 C162.46 296.48 161.39 296.40 161.30 296.30 C161.21 296.20 161.79 296.09 162.64 295.98 C163.50 295.87 165.46 295.73 166.44 295.62 C167.41 295.51 167.91 295.39 168.49 295.34 C169.07 295.29 169.33 295.29 169.91 295.34 Z" fill="#7da6da" stroke="none" stroke-width="0" stroke-linejoin="round"/>
<rect x="223.95" y="225.80" width="1.10" height="70.50" fill="#8fb2e2" fill-opacity="1.0"/>
<path d="M225.21 295.34 C225.79 295.39 226.29 295.51 227.26 295.62 C228.24 295.73 230.20 295.87 231.06 295.98 C231.91 296.09 232.49 296.20 232.40 296.30 C232.31 296.40 231.24 296.48 230.50 296.57 C229.77 296.66 228.71 296.75 227.98 296.84 C227.24 296.93 226.59 297.01 226.08 297.11 C225.57 297.21 225.22 297.38 224.90 297.44 C224.57 297.50 224.43 297.50 224.10 297.44 C223.78 297.38 223.43 297.21 222.92 297.11 C222.41 297.01 221.76 296.93 221.02 296.84 C220.29 296.75 219.23 296.66 218.50 296.57 C217.76 296.48 216.69 296.40 216.60 296.30 C216.51 296.20 217.09 296.09 217.94 295.98 C218.80 295.87 220.76 295.73 221.74 295.62 C222.71 295.51 223.21 295.39 223.79 295.34 C224.37 295.29 224.63 295.29 225.21 295.34 Z" fill="#7da6da" stroke="none" stroke-width="0" stroke-linejoin="round"/>
<rect x="85.70" y="286.50" width="1.00" height="9.80" fill="#e2402e" fill-opacity="1.0"/>
<path d="M88.25 294.58 C89.38 294.67 90.07 294.95 90.96 295.14 C91.84 295.33 93.01 295.55 93.58 295.74 C94.15 295.93 94.51 296.12 94.40 296.30 C94.29 296.48 93.59 296.65 92.92 296.82 C92.25 297.00 91.20 297.18 90.38 297.35 C89.56 297.52 88.50 297.67 88.00 297.84 C87.51 298.01 87.65 298.18 87.43 298.37 C87.21 298.55 86.98 298.86 86.69 298.96 C86.41 299.06 86.00 299.06 85.71 298.96 C85.42 298.86 85.19 298.55 84.97 298.37 C84.75 298.18 84.89 298.01 84.40 297.84 C83.90 297.67 82.84 297.52 82.02 297.35 C81.20 297.18 80.15 297.00 79.48 296.82 C78.81 296.65 78.11 296.48 78.00 296.30 C77.89 296.12 78.25 295.93 78.82 295.74 C79.39 295.55 80.56 295.33 81.44 295.14 C82.33 294.95 83.02 294.67 84.15 294.58 C85.28 294.49 87.12 294.49 88.25 294.58 Z" fill="#de2b19" stroke="none" stroke-width="0" stroke-linejoin="round"/>
<rect x="140.70" y="283.80" width="1.00" height="12.50" fill="#e2402e" fill-opacity="1.0"/>
<ellipse cx="141.20" cy="293.20" rx="1.50" ry="1.50" fill="#de2b19"/>
<path d="M143.25 294.58 C144.38 294.67 145.07 294.95 145.96 295.14 C146.84 295.33 148.01 295.55 148.58 295.74 C149.15 295.93 149.51 296.12 149.40 296.30 C149.29 296.48 148.59 296.65 147.92 296.82 C147.25 297.00 146.20 297.18 145.38 297.35 C144.56 297.52 143.50 297.67 143.00 297.84 C142.51 298.01 142.65 298.18 142.43 298.37 C142.21 298.55 141.98 298.86 141.69 298.96 C141.40 299.06 141.00 299.06 140.71 298.96 C140.42 298.86 140.19 298.55 139.97 298.37 C139.75 298.18 139.89 298.01 139.40 297.84 C138.90 297.67 137.84 297.52 137.02 297.35 C136.20 297.18 135.15 297.00 134.48 296.82 C133.81 296.65 133.11 296.48 133.00 296.30 C132.89 296.12 133.25 295.93 133.82 295.74 C134.39 295.55 135.56 295.33 136.44 295.14 C137.33 294.95 138.02 294.67 139.15 294.58 C140.28 294.49 142.12 294.49 143.25 294.58 Z" fill="#de2b19" stroke="none" stroke-width="0" stroke-linejoin="round"/>
<rect x="196.20" y="292.40" width="1.00" height="3.90" fill="#e2402e" fill-opacity="1.0"/>
<path d="M198.57 295.23 C199.61 295.28 200.24 295.45 201.05 295.57 C201.86 295.70 202.92 295.83 203.45 295.95 C203.97 296.07 204.30 296.19 204.20 296.30 C204.10 296.41 203.46 296.50 202.85 296.60 C202.24 296.70 201.27 296.80 200.52 296.90 C199.77 297.00 198.80 297.08 198.35 297.18 C197.90 297.28 198.02 297.37 197.82 297.48 C197.62 297.59 197.41 297.76 197.15 297.82 C196.89 297.88 196.51 297.88 196.25 297.82 C195.99 297.76 195.77 297.59 195.57 297.48 C195.38 297.37 195.50 297.28 195.05 297.18 C194.60 297.08 193.62 297.00 192.88 296.90 C192.12 296.80 191.16 296.70 190.55 296.60 C189.94 296.50 189.30 296.41 189.20 296.30 C189.10 296.19 189.42 296.07 189.95 295.95 C190.47 295.83 191.54 295.70 192.35 295.57 C193.16 295.45 193.79 295.28 194.82 295.23 C195.86 295.17 197.54 295.17 198.57 295.23 Z" fill="#de2b19" stroke="none" stroke-width="0" stroke-linejoin="round"/>
<rect x="251.50" y="282.80" width="1.00" height="13.50" fill="#e2402e" fill-opacity="1.0"/>
<ellipse cx="252.00" cy="290.00" rx="1.50" ry="2.00" fill="#de2b19"/>
<ellipse cx="252.00" cy="293.00" rx="2.00" ry="1.80" fill="#de2b19"/>
<path d="M254.05 294.15 C255.18 294.27 255.87 294.61 256.76 294.85 C257.64 295.09 258.81 295.36 259.38 295.60 C259.95 295.84 260.31 296.08 260.20 296.30 C260.09 296.52 259.39 296.70 258.72 296.90 C258.05 297.10 257.00 297.31 256.18 297.50 C255.36 297.69 254.30 297.87 253.80 298.06 C253.31 298.25 253.45 298.45 253.23 298.66 C253.01 298.87 252.78 299.23 252.49 299.34 C252.20 299.45 251.80 299.45 251.51 299.34 C251.22 299.23 250.99 298.87 250.77 298.66 C250.55 298.45 250.69 298.25 250.20 298.06 C249.70 297.87 248.64 297.69 247.82 297.50 C247.00 297.31 245.95 297.10 245.28 296.90 C244.61 296.70 243.91 296.52 243.80 296.30 C243.69 296.08 244.05 295.84 244.62 295.60 C245.19 295.36 246.36 295.09 247.24 294.85 C248.13 294.61 248.82 294.27 249.95 294.15 C251.08 294.03 252.92 294.03 254.05 294.15 Z" fill="#de2b19" stroke="none" stroke-width="0" stroke-linejoin="round"/>
<path d="M224.50 213.90 L224.50 202.00 L252.00 202.00 L252.00 265.80" stroke="#4a4a4a" stroke-width="1.0" fill="none" stroke-linejoin="round"/>
<text x="239.50" y="198.46" font-size="11" text-anchor="middle" font-weight="normal" fill="#1f1f1f">0.0048</text>
<text x="287.00" y="188.09" font-size="12.2" text-anchor="start" font-weight="bold" fill="#111" textLength="6.9" lengthAdjust="spacingAndGlyphs">E</text>
<line x1="319.90" y1="185.40" x2="319.90" y2="329.00" stroke="#4a4a4a" stroke-width="1.0"/>
<line x1="313.90" y1="185.40" x2="319.90" y2="185.40" stroke="#4a4a4a" stroke-width="1.0"/>
<text x="311.30" y="189.36" font-size="11" text-anchor="end" font-weight="normal" fill="#1f1f1f">2</text>
<line x1="313.90" y1="221.30" x2="319.90" y2="221.30" stroke="#4a4a4a" stroke-width="1.0"/>
<text x="311.30" y="225.26" font-size="11" text-anchor="end" font-weight="normal" fill="#1f1f1f">1</text>
<line x1="313.90" y1="257.20" x2="319.90" y2="257.20" stroke="#4a4a4a" stroke-width="1.0"/>
<text x="311.30" y="261.16" font-size="11" text-anchor="end" font-weight="normal" fill="#1f1f1f">0</text>
<line x1="313.90" y1="293.10" x2="319.90" y2="293.10" stroke="#4a4a4a" stroke-width="1.0"/>
<text x="311.30" y="297.06" font-size="11" text-anchor="end" font-weight="normal" fill="#1f1f1f">-1</text>
<line x1="313.90" y1="329.00" x2="319.90" y2="329.00" stroke="#4a4a4a" stroke-width="1.0"/>
<text x="311.30" y="332.96" font-size="11" text-anchor="end" font-weight="normal" fill="#1f1f1f">-2</text>
<line x1="319.90" y1="329.00" x2="495.60" y2="329.00" stroke="#4a4a4a" stroke-width="1.0"/>
<text x="294.70" y="265.26" font-size="11" text-anchor="middle" font-weight="normal" fill="#1f1f1f" transform="rotate(-90 294.70 261.30)">Log normal expression</text>
<text x="350.40" y="344.16" font-size="11" text-anchor="middle" font-weight="normal" fill="#1f1f1f">GRIN2D</text>
<text x="411.30" y="344.16" font-size="11" text-anchor="middle" font-weight="normal" fill="#1f1f1f">GRIN3A</text>
<text x="466.00" y="344.16" font-size="11" text-anchor="middle" font-weight="normal" fill="#1f1f1f">GRIN3B</text>
<rect x="337.75" y="217.10" width="1.10" height="40.10" fill="#8fb2e2" fill-opacity="1.0"/>
<path d="M339.09 256.36 C339.74 256.40 340.29 256.51 341.38 256.60 C342.47 256.70 344.65 256.82 345.60 256.92 C346.56 257.02 347.20 257.12 347.10 257.20 C347.00 257.28 345.81 257.35 344.99 257.43 C344.17 257.50 342.99 257.57 342.17 257.65 C341.35 257.72 340.63 257.79 340.06 257.88 C339.49 257.96 339.11 258.10 338.74 258.15 C338.37 258.20 338.23 258.20 337.86 258.15 C337.49 258.10 337.11 257.96 336.54 257.88 C335.97 257.79 335.25 257.72 334.43 257.65 C333.61 257.57 332.43 257.50 331.61 257.43 C330.79 257.35 329.60 257.28 329.50 257.20 C329.40 257.12 330.04 257.02 331.00 256.92 C331.95 256.82 334.13 256.70 335.22 256.60 C336.31 256.51 336.86 256.40 337.51 256.36 C338.15 256.32 338.45 256.32 339.09 256.36 Z" fill="#7da6da" stroke="none" stroke-width="0" stroke-linejoin="round"/>
<rect x="393.05" y="220.80" width="1.10" height="36.40" fill="#8fb2e2" fill-opacity="1.0"/>
<path d="M394.39 256.36 C395.04 256.40 395.59 256.51 396.68 256.60 C397.77 256.70 399.95 256.82 400.90 256.92 C401.86 257.02 402.50 257.12 402.40 257.20 C402.30 257.28 401.11 257.35 400.29 257.43 C399.47 257.50 398.29 257.57 397.47 257.65 C396.65 257.72 395.93 257.79 395.36 257.88 C394.79 257.96 394.41 258.10 394.04 258.15 C393.67 258.20 393.53 258.20 393.16 258.15 C392.79 258.10 392.41 257.96 391.84 257.88 C391.27 257.79 390.55 257.72 389.73 257.65 C388.91 257.57 387.73 257.50 386.91 257.43 C386.09 257.35 384.90 257.28 384.80 257.20 C384.70 257.12 385.34 257.02 386.30 256.92 C387.25 256.82 389.43 256.70 390.52 256.60 C391.61 256.51 392.16 256.40 392.81 256.36 C393.45 256.32 393.75 256.32 394.39 256.36 Z" fill="#7da6da" stroke="none" stroke-width="0" stroke-linejoin="round"/>
<rect x="448.45" y="214.30" width="1.10" height="42.90" fill="#8fb2e2" fill-opacity="1.0"/>
<path d="M449.79 256.36 C450.44 256.40 450.99 256.51 452.08 256.60 C453.17 256.70 455.35 256.82 456.30 256.92 C457.26 257.02 457.90 257.12 457.80 257.20 C457.70 257.28 456.51 257.35 455.69 257.43 C454.87 257.50 453.69 257.57 452.87 257.65 C452.05 257.72 451.33 257.79 450.76 257.88 C450.19 257.96 449.81 258.10 449.44 258.15 C449.07 258.20 448.93 258.20 448.56 258.15 C448.19 258.10 447.81 257.96 447.24 257.88 C446.67 257.79 445.95 257.72 445.13 257.65 C444.31 257.57 443.13 257.50 442.31 257.43 C441.49 257.35 440.30 257.28 440.20 257.20 C440.10 257.12 440.74 257.02 441.70 256.92 C442.65 256.82 444.83 256.70 445.92 256.60 C447.01 256.51 447.56 256.40 448.21 256.36 C448.85 256.32 449.15 256.32 449.79 256.36 Z" fill="#7da6da" stroke="none" stroke-width="0" stroke-linejoin="round"/>
<path d="M365.85 197.40 C366.01 203.67 366.01 226.73 366.10 235.00 C366.19 243.27 366.20 244.45 366.40 247.00 C366.60 249.55 366.45 249.35 367.30 250.30 C368.15 251.25 370.37 251.92 371.50 252.70 C372.63 253.48 373.58 254.33 374.10 255.00 C374.62 255.67 374.70 256.12 374.60 256.70 C374.50 257.28 374.02 257.97 373.50 258.50 C372.98 259.03 372.42 259.27 371.50 259.90 C370.58 260.53 368.83 261.62 368.00 262.30 C367.17 262.98 366.87 263.33 366.50 264.00 C366.13 264.67 366.02 265.92 365.80 266.30 C365.58 266.68 365.42 266.68 365.20 266.30 C364.98 265.92 364.87 264.67 364.50 264.00 C364.13 263.33 363.83 262.98 363.00 262.30 C362.17 261.62 360.42 260.53 359.50 259.90 C358.58 259.27 358.02 259.03 357.50 258.50 C356.98 257.97 356.50 257.28 356.40 256.70 C356.30 256.12 356.38 255.67 356.90 255.00 C357.42 254.33 358.37 253.48 359.50 252.70 C360.63 251.92 362.85 251.25 363.70 250.30 C364.55 249.35 364.40 249.55 364.60 247.00 C364.80 244.45 364.81 243.27 364.90 235.00 C364.99 226.73 364.99 203.67 365.15 197.40 C365.31 191.13 365.69 191.13 365.85 197.40 Z" fill="#de2b19" stroke="none" stroke-width="0" stroke-linejoin="round"/>
<rect x="420.50" y="243.80" width="1.00" height="13.40" fill="#e2402e" fill-opacity="1.0"/>
<ellipse cx="421.00" cy="254.30" rx="1.00" ry="1.50" fill="#de2b19"/>
<path d="M423.25 255.91 C424.50 255.98 425.25 256.19 426.22 256.33 C427.20 256.47 428.47 256.63 429.10 256.78 C429.73 256.92 430.12 257.06 430.00 257.20 C429.88 257.34 429.12 257.50 428.38 257.65 C427.64 257.80 426.49 257.95 425.59 258.10 C424.69 258.24 423.52 258.38 422.98 258.52 C422.44 258.66 422.59 258.81 422.35 258.97 C422.11 259.13 421.86 259.39 421.54 259.48 C421.23 259.56 420.77 259.56 420.46 259.48 C420.14 259.39 419.89 259.13 419.65 258.97 C419.41 258.81 419.56 258.66 419.02 258.52 C418.48 258.38 417.31 258.24 416.41 258.10 C415.51 257.95 414.36 257.80 413.62 257.65 C412.88 257.50 412.12 257.34 412.00 257.20 C411.88 257.06 412.27 256.92 412.90 256.78 C413.53 256.63 414.80 256.47 415.78 256.33 C416.75 256.19 417.50 255.98 418.75 255.91 C420.00 255.84 422.00 255.84 423.25 255.91 Z" fill="#de2b19" stroke="none" stroke-width="0" stroke-linejoin="round"/>
<path d="M476.60 194.30 C476.73 197.18 476.57 207.52 476.80 211.60 C477.03 215.68 477.43 216.15 478.00 218.80 C478.57 221.45 479.43 224.37 480.20 227.50 C480.97 230.63 481.93 234.25 482.60 237.60 C483.27 240.95 483.83 244.48 484.20 247.60 C484.57 250.72 484.82 253.17 484.80 256.30 C484.78 259.43 484.63 263.03 484.10 266.40 C483.57 269.77 482.50 273.38 481.60 276.50 C480.70 279.62 479.42 282.70 478.70 285.10 C477.98 287.50 477.62 288.50 477.30 290.90 C476.98 293.30 476.87 294.70 476.75 299.50 C476.63 304.30 476.73 316.33 476.60 319.70 C476.48 323.07 476.12 323.07 476.00 319.70 C475.88 316.33 475.97 304.30 475.85 299.50 C475.73 294.70 475.62 293.30 475.30 290.90 C474.98 288.50 474.62 287.50 473.90 285.10 C473.18 282.70 471.90 279.62 471.00 276.50 C470.10 273.38 469.03 269.77 468.50 266.40 C467.97 263.03 467.82 259.43 467.80 256.30 C467.78 253.17 468.03 250.72 468.40 247.60 C468.77 244.48 469.33 240.95 470.00 237.60 C470.67 234.25 471.63 230.63 472.40 227.50 C473.17 224.37 474.03 221.45 474.60 218.80 C475.17 216.15 475.57 215.68 475.80 211.60 C476.03 207.52 475.87 197.18 476.00 194.30 C476.13 191.42 476.47 191.42 476.60 194.30 Z" fill="#de2b19" stroke="none" stroke-width="0" stroke-linejoin="round"/>
<text x="509.00" y="187.69" font-size="12.2" text-anchor="start" font-weight="bold" fill="#111" textLength="6.2" lengthAdjust="spacingAndGlyphs">F</text>
<line x1="535.60" y1="189.40" x2="535.60" y2="328.65" stroke="#4a4a4a" stroke-width="1.0"/>
<line x1="529.60" y1="189.40" x2="535.60" y2="189.40" stroke="#4a4a4a" stroke-width="1.0"/>
<text x="526.00" y="193.36" font-size="11" text-anchor="end" font-weight="normal" fill="#1f1f1f">4</text>
<line x1="529.60" y1="217.25" x2="535.60" y2="217.25" stroke="#4a4a4a" stroke-width="1.0"/>
<text x="526.00" y="221.21" font-size="11" text-anchor="end" font-weight="normal" fill="#1f1f1f">3</text>
<line x1="529.60" y1="245.10" x2="535.60" y2="245.10" stroke="#4a4a4a" stroke-width="1.0"/>
<text x="526.00" y="249.06" font-size="11" text-anchor="end" font-weight="normal" fill="#1f1f1f">2</text>
<line x1="529.60" y1="272.95" x2="535.60" y2="272.95" stroke="#4a4a4a" stroke-width="1.0"/>
<text x="526.00" y="276.91" font-size="11" text-anchor="end" font-weight="normal" fill="#1f1f1f">1</text>
<line x1="529.60" y1="300.80" x2="535.60" y2="300.80" stroke="#4a4a4a" stroke-width="1.0"/>
<text x="526.00" y="304.76" font-size="11" text-anchor="end" font-weight="normal" fill="#1f1f1f">0</text>
<line x1="529.60" y1="328.65" x2="535.60" y2="328.65" stroke="#4a4a4a" stroke-width="1.0"/>
<text x="526.00" y="332.61" font-size="11" text-anchor="end" font-weight="normal" fill="#1f1f1f">-1</text>
<line x1="535.60" y1="328.65" x2="669.60" y2="328.65" stroke="#4a4a4a" stroke-width="1.0"/>
<text x="507.30" y="263.46" font-size="11" text-anchor="middle" font-weight="normal" fill="#1f1f1f" transform="rotate(-90 507.30 259.50)">Log normal expression</text>
<text x="568.30" y="345.86" font-size="11" text-anchor="middle" font-weight="normal" fill="#1f1f1f">Ki67</text>
<text x="633.10" y="345.86" font-size="11" text-anchor="middle" font-weight="normal" fill="#1f1f1f">PCNA</text>
<rect x="554.95" y="231.70" width="1.10" height="69.20" fill="#8fb2e2" fill-opacity="1.0"/>
<path d="M556.34 298.74 C557.02 298.84 557.61 299.13 558.75 299.37 C559.90 299.61 562.21 299.92 563.22 300.18 C564.23 300.43 564.91 300.67 564.80 300.90 C564.69 301.12 563.44 301.32 562.57 301.53 C561.70 301.74 560.46 301.95 559.59 302.16 C558.72 302.37 557.96 302.56 557.36 302.79 C556.76 303.02 556.35 303.43 555.97 303.56 C555.58 303.69 555.42 303.69 555.03 303.56 C554.65 303.43 554.24 303.02 553.64 302.79 C553.04 302.56 552.28 302.37 551.41 302.16 C550.54 301.95 549.30 301.74 548.43 301.53 C547.56 301.32 546.31 301.12 546.20 300.90 C546.09 300.67 546.77 300.43 547.78 300.18 C548.79 299.92 551.10 299.61 552.25 299.37 C553.39 299.13 553.98 298.84 554.66 298.74 C555.35 298.63 555.65 298.63 556.34 298.74 Z" fill="#7da6da" stroke="none" stroke-width="0" stroke-linejoin="round"/>
<rect x="586.00" y="275.00" width="1.00" height="25.90" fill="#e2402e" fill-opacity="1.0"/>
<ellipse cx="586.50" cy="280.20" rx="0.70" ry="1.50" fill="#de2b19"/>
<ellipse cx="586.50" cy="287.80" rx="1.20" ry="2.00" fill="#de2b19"/>
<ellipse cx="586.50" cy="293.00" rx="2.50" ry="3.00" fill="#de2b19"/>
<rect x="585.30" y="290.00" width="2.40" height="8.00" fill="#de2b19" fill-opacity="1.0"/>
<path d="M588.88 297.67 C590.19 297.85 590.98 298.36 592.01 298.72 C593.04 299.09 594.38 299.49 595.05 299.85 C595.71 300.21 596.13 300.56 596.00 300.90 C595.87 301.24 595.07 301.55 594.29 301.88 C593.51 302.20 592.30 302.54 591.35 302.85 C590.39 303.16 589.16 303.45 588.59 303.76 C588.02 304.07 588.18 304.39 587.92 304.73 C587.67 305.08 587.40 305.66 587.07 305.84 C586.74 306.02 586.26 306.02 585.93 305.84 C585.60 305.66 585.33 305.08 585.08 304.73 C584.82 304.39 584.98 304.07 584.41 303.76 C583.84 303.45 582.61 303.16 581.65 302.85 C580.70 302.54 579.49 302.20 578.71 301.88 C577.93 301.55 577.13 301.24 577.00 300.90 C576.87 300.56 577.29 300.21 577.95 299.85 C578.62 299.49 579.96 299.09 580.99 298.72 C582.02 298.36 582.81 297.85 584.12 297.67 C585.44 297.50 587.56 297.50 588.88 297.67 Z" fill="#de2b19" stroke="none" stroke-width="0" stroke-linejoin="round"/>
<path d="M617.95 196.70 C618.23 199.32 618.33 208.53 618.70 212.40 C619.08 216.27 619.75 216.65 620.20 219.90 C620.65 223.15 621.03 226.92 621.40 231.90 C621.77 236.88 622.05 245.12 622.40 249.80 C622.75 254.48 623.17 257.00 623.50 260.00 C623.83 263.00 624.37 265.47 624.40 267.80 C624.43 270.13 624.03 272.02 623.70 274.00 C623.37 275.98 623.12 277.50 622.40 279.70 C621.68 281.90 620.09 284.95 619.40 287.20 C618.71 289.45 617.75 291.45 618.25 293.20 C618.75 294.95 620.96 296.40 622.40 297.70 C623.84 299.00 626.90 300.00 626.90 301.00 C626.90 302.00 623.84 302.75 622.40 303.70 C620.96 304.65 619.02 305.83 618.25 306.70 C617.48 307.57 617.97 308.53 617.80 308.90 C617.62 309.27 617.38 309.27 617.20 308.90 C617.03 308.53 617.52 307.57 616.75 306.70 C615.98 305.83 614.04 304.65 612.60 303.70 C611.16 302.75 608.10 302.00 608.10 301.00 C608.10 300.00 611.16 299.00 612.60 297.70 C614.04 296.40 616.25 294.95 616.75 293.20 C617.25 291.45 616.29 289.45 615.60 287.20 C614.91 284.95 613.32 281.90 612.60 279.70 C611.88 277.50 611.63 275.98 611.30 274.00 C610.97 272.02 610.57 270.13 610.60 267.80 C610.63 265.47 611.17 263.00 611.50 260.00 C611.83 257.00 612.25 254.48 612.60 249.80 C612.95 245.12 613.23 236.88 613.60 231.90 C613.97 226.92 614.35 223.15 614.80 219.90 C615.25 216.65 615.92 216.27 616.30 212.40 C616.67 208.53 616.77 199.32 617.05 196.70 C617.32 194.08 617.68 194.08 617.95 196.70 Z" fill="#7da6da" stroke="none" stroke-width="0" stroke-linejoin="round"/>
<path d="M648.60 199.70 C648.82 201.82 648.68 209.03 649.30 212.40 C649.92 215.77 651.62 217.65 652.30 219.90 C652.98 222.15 653.40 223.40 653.40 225.90 C653.40 228.40 652.10 231.42 652.30 234.90 C652.50 238.38 653.90 243.45 654.60 246.80 C655.30 250.15 656.00 252.50 656.50 255.00 C657.00 257.50 657.67 259.17 657.60 261.80 C657.53 264.43 656.98 267.32 656.10 270.80 C655.22 274.28 653.05 278.72 652.30 282.70 C651.55 286.68 652.10 290.70 651.60 294.70 C651.10 298.70 649.80 302.08 649.30 306.70 C648.80 311.32 648.82 319.78 648.60 322.40 C648.38 325.02 648.22 325.02 648.00 322.40 C647.78 319.78 647.80 311.32 647.30 306.70 C646.80 302.08 645.50 298.70 645.00 294.70 C644.50 290.70 645.05 286.68 644.30 282.70 C643.55 278.72 641.38 274.28 640.50 270.80 C639.62 267.32 639.07 264.43 639.00 261.80 C638.93 259.17 639.60 257.50 640.10 255.00 C640.60 252.50 641.30 250.15 642.00 246.80 C642.70 243.45 644.10 238.38 644.30 234.90 C644.50 231.42 643.20 228.40 643.20 225.90 C643.20 223.40 643.62 222.15 644.30 219.90 C644.98 217.65 646.68 215.77 647.30 212.40 C647.92 209.03 647.78 201.82 648.00 199.70 C648.22 197.58 648.38 197.58 648.60 199.70 Z" fill="#de2b19" stroke="none" stroke-width="0" stroke-linejoin="round"/>
<path d="M555.90 217.70 L555.90 194.20 L586.70 194.20 L586.70 262.80" stroke="#4a4a4a" stroke-width="1.0" fill="none" stroke-linejoin="round"/>
<text x="571.60" y="191.06" font-size="11" text-anchor="middle" font-weight="normal" fill="#1f1f1f">0.0428</text>
<text x="0.90" y="364.39" font-size="12.2" text-anchor="start" font-weight="bold" fill="#111" textLength="8.2" lengthAdjust="spacingAndGlyphs">G</text>
<text x="78.05" y="367.29" font-size="7.2" text-anchor="middle" font-weight="normal" fill="#2a2a2a">GABRR1</text>
<text x="77.55" y="500.59" font-size="7.2" text-anchor="middle" font-weight="normal" fill="#2a2a2a">UMAP1</text>
<text x="11.20" y="432.79" font-size="7.2" text-anchor="middle" font-weight="normal" fill="#2a2a2a" transform="rotate(-90 11.20 430.20)">UMAP2</text>
<rect x="17.50" y="368.00" width="120.10" height="125.40" fill="none" stroke="#6e6e6e" stroke-width="1"/>
<defs><linearGradient id="cb17_368" x1="0" y1="1" x2="0" y2="0"><stop offset="0" stop-color="#fff7f3"/><stop offset="0.2" stop-color="#fcdcd0"/><stop offset="0.4" stop-color="#f8a890"/><stop offset="0.6" stop-color="#f07060"/><stop offset="0.8" stop-color="#c25060"/><stop offset="1.0" stop-color="#8e4a5a"/></linearGradient></defs>
<rect x="138.90" y="368.00" width="4.3" height="125.40" fill="url(#cb17_368)" stroke="#9a9a9a" stroke-width="0.7"/>
<line x1="143.20" y1="493.40" x2="144.70" y2="493.40" stroke="#333" stroke-width="0.7"/>
<text x="145.50" y="495.99" font-size="7.2" text-anchor="start" font-weight="normal" fill="#2a2a2a">0.0</text>
<line x1="143.20" y1="468.32" x2="144.70" y2="468.32" stroke="#333" stroke-width="0.7"/>
<text x="145.50" y="470.91" font-size="7.2" text-anchor="start" font-weight="normal" fill="#2a2a2a">0.2</text>
<line x1="143.20" y1="443.24" x2="144.70" y2="443.24" stroke="#333" stroke-width="0.7"/>
<text x="145.50" y="445.83" font-size="7.2" text-anchor="start" font-weight="normal" fill="#2a2a2a">0.4</text>
<line x1="143.20" y1="418.16" x2="144.70" y2="418.16" stroke="#333" stroke-width="0.7"/>
<text x="145.50" y="420.75" font-size="7.2" text-anchor="start" font-weight="normal" fill="#2a2a2a">0.6</text>
<line x1="143.20" y1="393.08" x2="144.70" y2="393.08" stroke="#333" stroke-width="0.7"/>
<text x="145.50" y="395.67" font-size="7.2" text-anchor="start" font-weight="normal" fill="#2a2a2a">0.8</text>
<line x1="143.20" y1="368.00" x2="144.70" y2="368.00" stroke="#333" stroke-width="0.7"/>
<text x="145.50" y="370.59" font-size="7.2" text-anchor="start" font-weight="normal" fill="#2a2a2a">1.0</text>
<circle cx="59.53" cy="385.76" r="2.65" fill="#fdf8f5" stroke="#000" stroke-width="1.15"/>
<circle cx="66.34" cy="385.36" r="2.65" fill="#fdf8f5" stroke="#000" stroke-width="1.15"/>
<circle cx="36.22" cy="397.90" r="2.65" fill="#fdf8f5" stroke="#000" stroke-width="1.15"/>
<circle cx="43.02" cy="409.33" r="2.65" fill="#fdf8f5" stroke="#000" stroke-width="1.15"/>
<circle cx="28.71" cy="433.51" r="2.65" fill="#fdf8f5" stroke="#000" stroke-width="1.15"/>
<circle cx="28.11" cy="435.92" r="2.65" fill="#fdf8f5" stroke="#000" stroke-width="1.15"/>
<circle cx="24.61" cy="443.44" r="2.65" fill="#fdf8f5" stroke="#000" stroke-width="1.15"/>
<circle cx="31.81" cy="451.47" r="2.65" fill="#fdf8f5" stroke="#000" stroke-width="1.15"/>
<circle cx="35.31" cy="454.98" r="2.65" fill="#fdf8f5" stroke="#000" stroke-width="1.15"/>
<circle cx="41.72" cy="450.56" r="2.65" fill="#fdf8f5" stroke="#000" stroke-width="1.15"/>
<circle cx="47.42" cy="449.26" r="2.65" fill="#fdf8f5" stroke="#000" stroke-width="1.15"/>
<circle cx="50.03" cy="450.56" r="2.65" fill="#fdf8f5" stroke="#000" stroke-width="1.15"/>
<circle cx="41.32" cy="459.39" r="2.65" fill="#fdf8f5" stroke="#000" stroke-width="1.15"/>
<circle cx="49.63" cy="460.70" r="2.65" fill="#fdf8f5" stroke="#000" stroke-width="1.15"/>
<circle cx="43.92" cy="463.30" r="2.65" fill="#fdf8f5" stroke="#000" stroke-width="1.15"/>
<circle cx="48.33" cy="466.01" r="2.65" fill="#fdf8f5" stroke="#000" stroke-width="1.15"/>
<circle cx="55.33" cy="465.51" r="2.65" fill="#fdf8f5" stroke="#000" stroke-width="1.15"/>
<circle cx="132.10" cy="487.78" r="2.65" fill="#fdf8f5" stroke="#000" stroke-width="1.15"/>
<circle cx="61.04" cy="476.55" r="2.65" fill="#f59a80" stroke="#000" stroke-width="1.15"/>
<circle cx="44.82" cy="458.09" r="2.65" fill="#f08068" stroke="#000" stroke-width="1.15"/>
<circle cx="51.33" cy="373.92" r="2.65" fill="#e06262" stroke="#000" stroke-width="1.15"/>
<circle cx="33.01" cy="458.49" r="2.65" fill="#e06262" stroke="#000" stroke-width="1.15"/>
<circle cx="48.33" cy="400.50" r="2.65" fill="#cf5464" stroke="#000" stroke-width="1.15"/>
<circle cx="31.81" cy="446.65" r="2.65" fill="#cf5464" stroke="#000" stroke-width="1.15"/>
<circle cx="22.90" cy="435.62" r="2.65" fill="#a64c5c" stroke="#000" stroke-width="1.15"/>
<circle cx="48.33" cy="456.78" r="2.65" fill="#a64c5c" stroke="#000" stroke-width="1.15"/>
<circle cx="48.33" cy="467.72" r="2.65" fill="#a64c5c" stroke="#000" stroke-width="1.15"/>
<text x="237.55" y="367.29" font-size="7.2" text-anchor="middle" font-weight="normal" fill="#2a2a2a">GABRA3</text>
<text x="237.05" y="500.59" font-size="7.2" text-anchor="middle" font-weight="normal" fill="#2a2a2a">UMAP1</text>
<text x="170.60" y="432.79" font-size="7.2" text-anchor="middle" font-weight="normal" fill="#2a2a2a" transform="rotate(-90 170.60 430.20)">UMAP2</text>
<rect x="176.90" y="368.00" width="120.30" height="125.40" fill="none" stroke="#6e6e6e" stroke-width="1"/>
<defs><linearGradient id="cb176_368" x1="0" y1="1" x2="0" y2="0"><stop offset="0" stop-color="#fff7f3"/><stop offset="0.2" stop-color="#fcdcd0"/><stop offset="0.4" stop-color="#f8a890"/><stop offset="0.6" stop-color="#f07060"/><stop offset="0.8" stop-color="#c25060"/><stop offset="1.0" stop-color="#8e4a5a"/></linearGradient></defs>
<rect x="298.50" y="368.00" width="4.3" height="125.40" fill="url(#cb176_368)" stroke="#9a9a9a" stroke-width="0.7"/>
<line x1="302.80" y1="493.40" x2="304.30" y2="493.40" stroke="#333" stroke-width="0.7"/>
<text x="305.10" y="495.99" font-size="7.2" text-anchor="start" font-weight="normal" fill="#2a2a2a">0.0</text>
<line x1="302.80" y1="468.32" x2="304.30" y2="468.32" stroke="#333" stroke-width="0.7"/>
<text x="305.10" y="470.91" font-size="7.2" text-anchor="start" font-weight="normal" fill="#2a2a2a">0.2</text>
<line x1="302.80" y1="443.24" x2="304.30" y2="443.24" stroke="#333" stroke-width="0.7"/>
<text x="305.10" y="445.83" font-size="7.2" text-anchor="start" font-weight="normal" fill="#2a2a2a">0.4</text>
<line x1="302.80" y1="418.16" x2="304.30" y2="418.16" stroke="#333" stroke-width="0.7"/>
<text x="305.10" y="420.75" font-size="7.2" text-anchor="start" font-weight="normal" fill="#2a2a2a">0.6</text>
<line x1="302.80" y1="393.08" x2="304.30" y2="393.08" stroke="#333" stroke-width="0.7"/>
<text x="305.10" y="395.67" font-size="7.2" text-anchor="start" font-weight="normal" fill="#2a2a2a">0.8</text>
<line x1="302.80" y1="368.00" x2="304.30" y2="368.00" stroke="#333" stroke-width="0.7"/>
<text x="305.10" y="370.59" font-size="7.2" text-anchor="start" font-weight="normal" fill="#2a2a2a">1.0</text>
<circle cx="210.78" cy="373.92" r="2.65" fill="#fdf8f5" stroke="#000" stroke-width="1.15"/>
<circle cx="195.65" cy="397.90" r="2.65" fill="#fdf8f5" stroke="#000" stroke-width="1.15"/>
<circle cx="182.31" cy="435.62" r="2.65" fill="#fdf8f5" stroke="#000" stroke-width="1.15"/>
<circle cx="188.13" cy="433.51" r="2.65" fill="#fdf8f5" stroke="#000" stroke-width="1.15"/>
<circle cx="187.53" cy="435.92" r="2.65" fill="#fdf8f5" stroke="#000" stroke-width="1.15"/>
<circle cx="184.02" cy="443.44" r="2.65" fill="#fdf8f5" stroke="#000" stroke-width="1.15"/>
<circle cx="191.24" cy="446.65" r="2.65" fill="#fdf8f5" stroke="#000" stroke-width="1.15"/>
<circle cx="191.24" cy="451.47" r="2.65" fill="#fdf8f5" stroke="#000" stroke-width="1.15"/>
<circle cx="201.16" cy="450.56" r="2.65" fill="#fdf8f5" stroke="#000" stroke-width="1.15"/>
<circle cx="206.87" cy="449.26" r="2.65" fill="#fdf8f5" stroke="#000" stroke-width="1.15"/>
<circle cx="200.76" cy="459.39" r="2.65" fill="#fdf8f5" stroke="#000" stroke-width="1.15"/>
<circle cx="204.27" cy="458.09" r="2.65" fill="#fdf8f5" stroke="#000" stroke-width="1.15"/>
<circle cx="203.37" cy="463.30" r="2.65" fill="#fdf8f5" stroke="#000" stroke-width="1.15"/>
<circle cx="207.78" cy="466.01" r="2.65" fill="#fdf8f5" stroke="#000" stroke-width="1.15"/>
<circle cx="214.79" cy="465.51" r="2.65" fill="#fdf8f5" stroke="#000" stroke-width="1.15"/>
<circle cx="209.48" cy="450.56" r="2.65" fill="#f59a80" stroke="#000" stroke-width="1.15"/>
<circle cx="209.08" cy="460.70" r="2.65" fill="#f08068" stroke="#000" stroke-width="1.15"/>
<circle cx="207.78" cy="400.50" r="2.65" fill="#e06262" stroke="#000" stroke-width="1.15"/>
<circle cx="192.44" cy="458.49" r="2.65" fill="#e06262" stroke="#000" stroke-width="1.15"/>
<circle cx="202.46" cy="409.33" r="2.65" fill="#cf5464" stroke="#000" stroke-width="1.15"/>
<circle cx="219.00" cy="385.76" r="2.65" fill="#a64c5c" stroke="#000" stroke-width="1.15"/>
<circle cx="225.82" cy="385.36" r="2.65" fill="#a64c5c" stroke="#000" stroke-width="1.15"/>
<circle cx="194.74" cy="454.98" r="2.65" fill="#a64c5c" stroke="#000" stroke-width="1.15"/>
<circle cx="207.78" cy="456.78" r="2.65" fill="#a64c5c" stroke="#000" stroke-width="1.15"/>
<circle cx="207.78" cy="467.72" r="2.65" fill="#a64c5c" stroke="#000" stroke-width="1.15"/>
<circle cx="220.51" cy="476.55" r="2.65" fill="#a64c5c" stroke="#000" stroke-width="1.15"/>
<circle cx="291.69" cy="487.78" r="2.65" fill="#a64c5c" stroke="#000" stroke-width="1.15"/>
<text x="78.00" y="511.59" font-size="7.2" text-anchor="middle" font-weight="normal" fill="#2a2a2a">GABRB2</text>
<text x="77.50" y="644.49" font-size="7.2" text-anchor="middle" font-weight="normal" fill="#2a2a2a">UMAP1</text>
<text x="11.20" y="576.89" font-size="7.2" text-anchor="middle" font-weight="normal" fill="#2a2a2a" transform="rotate(-90 11.20 574.30)">UMAP2</text>
<rect x="17.50" y="512.30" width="120.00" height="125.00" fill="none" stroke="#6e6e6e" stroke-width="1"/>
<defs><linearGradient id="cb17_512" x1="0" y1="1" x2="0" y2="0"><stop offset="0" stop-color="#fff7f3"/><stop offset="0.2" stop-color="#fcdcd0"/><stop offset="0.4" stop-color="#f8a890"/><stop offset="0.6" stop-color="#f07060"/><stop offset="0.8" stop-color="#c25060"/><stop offset="1.0" stop-color="#8e4a5a"/></linearGradient></defs>
<rect x="138.80" y="512.30" width="4.3" height="125.00" fill="url(#cb17_512)" stroke="#9a9a9a" stroke-width="0.7"/>
<line x1="143.10" y1="637.30" x2="144.60" y2="637.30" stroke="#333" stroke-width="0.7"/>
<text x="145.40" y="639.89" font-size="7.2" text-anchor="start" font-weight="normal" fill="#2a2a2a">0.0</text>
<line x1="143.10" y1="612.30" x2="144.60" y2="612.30" stroke="#333" stroke-width="0.7"/>
<text x="145.40" y="614.89" font-size="7.2" text-anchor="start" font-weight="normal" fill="#2a2a2a">0.2</text>
<line x1="143.10" y1="587.30" x2="144.60" y2="587.30" stroke="#333" stroke-width="0.7"/>
<text x="145.40" y="589.89" font-size="7.2" text-anchor="start" font-weight="normal" fill="#2a2a2a">0.4</text>
<line x1="143.10" y1="562.30" x2="144.60" y2="562.30" stroke="#333" stroke-width="0.7"/>
<text x="145.40" y="564.89" font-size="7.2" text-anchor="start" font-weight="normal" fill="#2a2a2a">0.6</text>
<line x1="143.10" y1="537.30" x2="144.60" y2="537.30" stroke="#333" stroke-width="0.7"/>
<text x="145.40" y="539.89" font-size="7.2" text-anchor="start" font-weight="normal" fill="#2a2a2a">0.8</text>
<line x1="143.10" y1="512.30" x2="144.60" y2="512.30" stroke="#333" stroke-width="0.7"/>
<text x="145.40" y="514.89" font-size="7.2" text-anchor="start" font-weight="normal" fill="#2a2a2a">1.0</text>
<circle cx="51.30" cy="518.20" r="2.65" fill="#fdf8f5" stroke="#000" stroke-width="1.15"/>
<circle cx="59.50" cy="530.00" r="2.65" fill="#fdf8f5" stroke="#000" stroke-width="1.15"/>
<circle cx="66.30" cy="529.60" r="2.65" fill="#fdf8f5" stroke="#000" stroke-width="1.15"/>
<circle cx="36.20" cy="542.10" r="2.65" fill="#fdf8f5" stroke="#000" stroke-width="1.15"/>
<circle cx="48.30" cy="544.70" r="2.65" fill="#fdf8f5" stroke="#000" stroke-width="1.15"/>
<circle cx="22.90" cy="579.70" r="2.65" fill="#fdf8f5" stroke="#000" stroke-width="1.15"/>
<circle cx="28.10" cy="580.00" r="2.65" fill="#fdf8f5" stroke="#000" stroke-width="1.15"/>
<circle cx="24.60" cy="587.50" r="2.65" fill="#fdf8f5" stroke="#000" stroke-width="1.15"/>
<circle cx="31.80" cy="590.70" r="2.65" fill="#fdf8f5" stroke="#000" stroke-width="1.15"/>
<circle cx="31.80" cy="595.50" r="2.65" fill="#fdf8f5" stroke="#000" stroke-width="1.15"/>
<circle cx="35.30" cy="599.00" r="2.65" fill="#fdf8f5" stroke="#000" stroke-width="1.15"/>
<circle cx="41.70" cy="594.60" r="2.65" fill="#fdf8f5" stroke="#000" stroke-width="1.15"/>
<circle cx="50.00" cy="594.60" r="2.65" fill="#fdf8f5" stroke="#000" stroke-width="1.15"/>
<circle cx="41.30" cy="603.40" r="2.65" fill="#fdf8f5" stroke="#000" stroke-width="1.15"/>
<circle cx="44.80" cy="602.10" r="2.65" fill="#fdf8f5" stroke="#000" stroke-width="1.15"/>
<circle cx="48.30" cy="600.80" r="2.65" fill="#fdf8f5" stroke="#000" stroke-width="1.15"/>
<circle cx="48.30" cy="610.00" r="2.65" fill="#fdf8f5" stroke="#000" stroke-width="1.15"/>
<circle cx="48.30" cy="611.70" r="2.65" fill="#fdf8f5" stroke="#000" stroke-width="1.15"/>
<circle cx="61.00" cy="620.50" r="2.65" fill="#fdf8f5" stroke="#000" stroke-width="1.15"/>
<circle cx="132.00" cy="631.70" r="2.65" fill="#f59a80" stroke="#000" stroke-width="1.15"/>
<circle cx="43.00" cy="553.50" r="2.65" fill="#f08068" stroke="#000" stroke-width="1.15"/>
<circle cx="49.60" cy="604.70" r="2.65" fill="#f08068" stroke="#000" stroke-width="1.15"/>
<circle cx="43.90" cy="607.30" r="2.65" fill="#f08068" stroke="#000" stroke-width="1.15"/>
<circle cx="33.00" cy="602.50" r="2.65" fill="#e06262" stroke="#000" stroke-width="1.15"/>
<circle cx="55.30" cy="609.50" r="2.65" fill="#e06262" stroke="#000" stroke-width="1.15"/>
<circle cx="28.70" cy="577.60" r="2.65" fill="#a64c5c" stroke="#000" stroke-width="1.15"/>
<circle cx="47.40" cy="593.30" r="2.65" fill="#a64c5c" stroke="#000" stroke-width="1.15"/>
<text x="236.65" y="511.59" font-size="7.2" text-anchor="middle" font-weight="normal" fill="#2a2a2a">GABRE</text>
<text x="236.15" y="644.59" font-size="7.2" text-anchor="middle" font-weight="normal" fill="#2a2a2a">UMAP1</text>
<text x="171.00" y="576.94" font-size="7.2" text-anchor="middle" font-weight="normal" fill="#2a2a2a" transform="rotate(-90 171.00 574.35)">UMAP2</text>
<rect x="177.30" y="512.30" width="117.70" height="125.10" fill="none" stroke="#6e6e6e" stroke-width="1"/>
<defs><linearGradient id="cb177_512" x1="0" y1="1" x2="0" y2="0"><stop offset="0" stop-color="#fff7f3"/><stop offset="0.2" stop-color="#fcdcd0"/><stop offset="0.4" stop-color="#f8a890"/><stop offset="0.6" stop-color="#f07060"/><stop offset="0.8" stop-color="#c25060"/><stop offset="1.0" stop-color="#8e4a5a"/></linearGradient></defs>
<rect x="296.30" y="512.30" width="4.3" height="125.10" fill="url(#cb177_512)" stroke="#9a9a9a" stroke-width="0.7"/>
<line x1="300.60" y1="637.40" x2="302.10" y2="637.40" stroke="#333" stroke-width="0.7"/>
<text x="302.90" y="639.99" font-size="7.2" text-anchor="start" font-weight="normal" fill="#2a2a2a">0.0</text>
<line x1="300.60" y1="612.38" x2="302.10" y2="612.38" stroke="#333" stroke-width="0.7"/>
<text x="302.90" y="614.97" font-size="7.2" text-anchor="start" font-weight="normal" fill="#2a2a2a">0.2</text>
<line x1="300.60" y1="587.36" x2="302.10" y2="587.36" stroke="#333" stroke-width="0.7"/>
<text x="302.90" y="589.95" font-size="7.2" text-anchor="start" font-weight="normal" fill="#2a2a2a">0.4</text>
<line x1="300.60" y1="562.34" x2="302.10" y2="562.34" stroke="#333" stroke-width="0.7"/>
<text x="302.90" y="564.93" font-size="7.2" text-anchor="start" font-weight="normal" fill="#2a2a2a">0.6</text>
<line x1="300.60" y1="537.32" x2="302.10" y2="537.32" stroke="#333" stroke-width="0.7"/>
<text x="302.90" y="539.91" font-size="7.2" text-anchor="start" font-weight="normal" fill="#2a2a2a">0.8</text>
<line x1="300.60" y1="512.30" x2="302.10" y2="512.30" stroke="#333" stroke-width="0.7"/>
<text x="302.90" y="514.89" font-size="7.2" text-anchor="start" font-weight="normal" fill="#2a2a2a">1.0</text>
<circle cx="210.45" cy="518.20" r="2.65" fill="#fdf8f5" stroke="#000" stroke-width="1.15"/>
<circle cx="218.50" cy="530.01" r="2.65" fill="#fdf8f5" stroke="#000" stroke-width="1.15"/>
<circle cx="225.16" cy="529.61" r="2.65" fill="#fdf8f5" stroke="#000" stroke-width="1.15"/>
<circle cx="195.64" cy="542.12" r="2.65" fill="#fdf8f5" stroke="#000" stroke-width="1.15"/>
<circle cx="202.31" cy="553.53" r="2.65" fill="#fdf8f5" stroke="#000" stroke-width="1.15"/>
<circle cx="182.60" cy="579.75" r="2.65" fill="#fdf8f5" stroke="#000" stroke-width="1.15"/>
<circle cx="188.29" cy="577.65" r="2.65" fill="#fdf8f5" stroke="#000" stroke-width="1.15"/>
<circle cx="187.70" cy="580.05" r="2.65" fill="#fdf8f5" stroke="#000" stroke-width="1.15"/>
<circle cx="184.26" cy="587.56" r="2.65" fill="#fdf8f5" stroke="#000" stroke-width="1.15"/>
<circle cx="191.33" cy="595.57" r="2.65" fill="#fdf8f5" stroke="#000" stroke-width="1.15"/>
<circle cx="194.76" cy="599.07" r="2.65" fill="#fdf8f5" stroke="#000" stroke-width="1.15"/>
<circle cx="192.50" cy="602.57" r="2.65" fill="#fdf8f5" stroke="#000" stroke-width="1.15"/>
<circle cx="201.04" cy="594.67" r="2.65" fill="#fdf8f5" stroke="#000" stroke-width="1.15"/>
<circle cx="206.63" cy="593.36" r="2.65" fill="#fdf8f5" stroke="#000" stroke-width="1.15"/>
<circle cx="209.18" cy="594.67" r="2.65" fill="#fdf8f5" stroke="#000" stroke-width="1.15"/>
<circle cx="200.64" cy="603.47" r="2.65" fill="#fdf8f5" stroke="#000" stroke-width="1.15"/>
<circle cx="204.08" cy="602.17" r="2.65" fill="#fdf8f5" stroke="#000" stroke-width="1.15"/>
<circle cx="207.51" cy="600.87" r="2.65" fill="#fdf8f5" stroke="#000" stroke-width="1.15"/>
<circle cx="208.78" cy="604.77" r="2.65" fill="#fdf8f5" stroke="#000" stroke-width="1.15"/>
<circle cx="203.19" cy="607.38" r="2.65" fill="#fdf8f5" stroke="#000" stroke-width="1.15"/>
<circle cx="207.51" cy="610.08" r="2.65" fill="#fdf8f5" stroke="#000" stroke-width="1.15"/>
<circle cx="207.51" cy="611.78" r="2.65" fill="#fdf8f5" stroke="#000" stroke-width="1.15"/>
<circle cx="214.38" cy="609.58" r="2.65" fill="#fdf8f5" stroke="#000" stroke-width="1.15"/>
<circle cx="289.61" cy="631.80" r="2.65" fill="#fdf8f5" stroke="#000" stroke-width="1.15"/>
<circle cx="207.51" cy="544.73" r="2.65" fill="#f59a80" stroke="#000" stroke-width="1.15"/>
<circle cx="191.33" cy="590.76" r="2.65" fill="#cf5464" stroke="#000" stroke-width="1.15"/>
<circle cx="219.97" cy="620.59" r="2.65" fill="#cf5464" stroke="#000" stroke-width="1.15"/>
<text x="77.05" y="655.89" font-size="7.2" text-anchor="middle" font-weight="normal" fill="#2a2a2a">GRIA1</text>
<text x="76.55" y="788.59" font-size="7.2" text-anchor="middle" font-weight="normal" fill="#2a2a2a">UMAP1</text>
<text x="10.20" y="721.09" font-size="7.2" text-anchor="middle" font-weight="normal" fill="#2a2a2a" transform="rotate(-90 10.20 718.50)">UMAP2</text>
<rect x="16.50" y="656.60" width="120.10" height="124.80" fill="none" stroke="#6e6e6e" stroke-width="1"/>
<defs><linearGradient id="cb16_656" x1="0" y1="1" x2="0" y2="0"><stop offset="0" stop-color="#fff7f3"/><stop offset="0.2" stop-color="#fcdcd0"/><stop offset="0.4" stop-color="#f8a890"/><stop offset="0.6" stop-color="#f07060"/><stop offset="0.8" stop-color="#c25060"/><stop offset="1.0" stop-color="#8e4a5a"/></linearGradient></defs>
<rect x="137.90" y="656.60" width="4.3" height="124.80" fill="url(#cb16_656)" stroke="#9a9a9a" stroke-width="0.7"/>
<line x1="142.20" y1="781.40" x2="143.70" y2="781.40" stroke="#333" stroke-width="0.7"/>
<text x="144.50" y="783.99" font-size="7.2" text-anchor="start" font-weight="normal" fill="#2a2a2a">0.0</text>
<line x1="142.20" y1="756.44" x2="143.70" y2="756.44" stroke="#333" stroke-width="0.7"/>
<text x="144.50" y="759.03" font-size="7.2" text-anchor="start" font-weight="normal" fill="#2a2a2a">0.2</text>
<line x1="142.20" y1="731.48" x2="143.70" y2="731.48" stroke="#333" stroke-width="0.7"/>
<text x="144.50" y="734.07" font-size="7.2" text-anchor="start" font-weight="normal" fill="#2a2a2a">0.4</text>
<line x1="142.20" y1="706.52" x2="143.70" y2="706.52" stroke="#333" stroke-width="0.7"/>
<text x="144.50" y="709.11" font-size="7.2" text-anchor="start" font-weight="normal" fill="#2a2a2a">0.6</text>
<line x1="142.20" y1="681.56" x2="143.70" y2="681.56" stroke="#333" stroke-width="0.7"/>
<text x="144.50" y="684.15" font-size="7.2" text-anchor="start" font-weight="normal" fill="#2a2a2a">0.8</text>
<line x1="142.20" y1="656.60" x2="143.70" y2="656.60" stroke="#333" stroke-width="0.7"/>
<text x="144.50" y="659.19" font-size="7.2" text-anchor="start" font-weight="normal" fill="#2a2a2a">1.0</text>
<circle cx="50.33" cy="662.49" r="2.65" fill="#fdf8f5" stroke="#000" stroke-width="1.15"/>
<circle cx="58.53" cy="674.27" r="2.65" fill="#fdf8f5" stroke="#000" stroke-width="1.15"/>
<circle cx="65.34" cy="673.87" r="2.65" fill="#fdf8f5" stroke="#000" stroke-width="1.15"/>
<circle cx="35.22" cy="686.35" r="2.65" fill="#fdf8f5" stroke="#000" stroke-width="1.15"/>
<circle cx="47.33" cy="688.95" r="2.65" fill="#fdf8f5" stroke="#000" stroke-width="1.15"/>
<circle cx="42.02" cy="697.73" r="2.65" fill="#fdf8f5" stroke="#000" stroke-width="1.15"/>
<circle cx="21.90" cy="723.89" r="2.65" fill="#fdf8f5" stroke="#000" stroke-width="1.15"/>
<circle cx="27.71" cy="721.80" r="2.65" fill="#fdf8f5" stroke="#000" stroke-width="1.15"/>
<circle cx="27.11" cy="724.19" r="2.65" fill="#fdf8f5" stroke="#000" stroke-width="1.15"/>
<circle cx="30.81" cy="734.87" r="2.65" fill="#fdf8f5" stroke="#000" stroke-width="1.15"/>
<circle cx="30.81" cy="739.67" r="2.65" fill="#fdf8f5" stroke="#000" stroke-width="1.15"/>
<circle cx="34.31" cy="743.16" r="2.65" fill="#fdf8f5" stroke="#000" stroke-width="1.15"/>
<circle cx="32.01" cy="746.66" r="2.65" fill="#fdf8f5" stroke="#000" stroke-width="1.15"/>
<circle cx="40.72" cy="738.77" r="2.65" fill="#fdf8f5" stroke="#000" stroke-width="1.15"/>
<circle cx="46.42" cy="737.47" r="2.65" fill="#fdf8f5" stroke="#000" stroke-width="1.15"/>
<circle cx="49.03" cy="738.77" r="2.65" fill="#fdf8f5" stroke="#000" stroke-width="1.15"/>
<circle cx="40.32" cy="747.55" r="2.65" fill="#fdf8f5" stroke="#000" stroke-width="1.15"/>
<circle cx="43.82" cy="746.26" r="2.65" fill="#fdf8f5" stroke="#000" stroke-width="1.15"/>
<circle cx="47.33" cy="744.96" r="2.65" fill="#fdf8f5" stroke="#000" stroke-width="1.15"/>
<circle cx="48.63" cy="748.85" r="2.65" fill="#fdf8f5" stroke="#000" stroke-width="1.15"/>
<circle cx="42.92" cy="751.45" r="2.65" fill="#fdf8f5" stroke="#000" stroke-width="1.15"/>
<circle cx="47.33" cy="754.14" r="2.65" fill="#fdf8f5" stroke="#000" stroke-width="1.15"/>
<circle cx="47.33" cy="755.84" r="2.65" fill="#fdf8f5" stroke="#000" stroke-width="1.15"/>
<circle cx="54.33" cy="753.64" r="2.65" fill="#fdf8f5" stroke="#000" stroke-width="1.15"/>
<circle cx="60.04" cy="764.63" r="2.65" fill="#fdf8f5" stroke="#000" stroke-width="1.15"/>
<circle cx="131.10" cy="775.81" r="2.65" fill="#f59a80" stroke="#000" stroke-width="1.15"/>
<circle cx="23.61" cy="731.68" r="2.65" fill="#a64c5c" stroke="#000" stroke-width="1.15"/>
<text x="235.25" y="658.79" font-size="7.2" text-anchor="middle" font-weight="normal" fill="#2a2a2a">GRIA2</text>
<text x="234.75" y="791.49" font-size="7.2" text-anchor="middle" font-weight="normal" fill="#2a2a2a">UMAP1</text>
<text x="168.20" y="723.99" font-size="7.2" text-anchor="middle" font-weight="normal" fill="#2a2a2a" transform="rotate(-90 168.20 721.40)">UMAP2</text>
<rect x="174.50" y="659.50" width="120.50" height="124.80" fill="none" stroke="#6e6e6e" stroke-width="1"/>
<defs><linearGradient id="cb174_659" x1="0" y1="1" x2="0" y2="0"><stop offset="0" stop-color="#fff7f3"/><stop offset="0.2" stop-color="#fcdcd0"/><stop offset="0.4" stop-color="#f8a890"/><stop offset="0.6" stop-color="#f07060"/><stop offset="0.8" stop-color="#c25060"/><stop offset="1.0" stop-color="#8e4a5a"/></linearGradient></defs>
<rect x="296.30" y="659.50" width="4.3" height="124.80" fill="url(#cb174_659)" stroke="#9a9a9a" stroke-width="0.7"/>
<line x1="300.60" y1="784.30" x2="302.10" y2="784.30" stroke="#333" stroke-width="0.7"/>
<text x="302.90" y="786.89" font-size="7.2" text-anchor="start" font-weight="normal" fill="#2a2a2a">0.0</text>
<line x1="300.60" y1="759.34" x2="302.10" y2="759.34" stroke="#333" stroke-width="0.7"/>
<text x="302.90" y="761.93" font-size="7.2" text-anchor="start" font-weight="normal" fill="#2a2a2a">0.2</text>
<line x1="300.60" y1="734.38" x2="302.10" y2="734.38" stroke="#333" stroke-width="0.7"/>
<text x="302.90" y="736.97" font-size="7.2" text-anchor="start" font-weight="normal" fill="#2a2a2a">0.4</text>
<line x1="300.60" y1="709.42" x2="302.10" y2="709.42" stroke="#333" stroke-width="0.7"/>
<text x="302.90" y="712.01" font-size="7.2" text-anchor="start" font-weight="normal" fill="#2a2a2a">0.6</text>
<line x1="300.60" y1="684.46" x2="302.10" y2="684.46" stroke="#333" stroke-width="0.7"/>
<text x="302.90" y="687.05" font-size="7.2" text-anchor="start" font-weight="normal" fill="#2a2a2a">0.8</text>
<line x1="300.60" y1="659.50" x2="302.10" y2="659.50" stroke="#333" stroke-width="0.7"/>
<text x="302.90" y="662.09" font-size="7.2" text-anchor="start" font-weight="normal" fill="#2a2a2a">1.0</text>
<circle cx="208.44" cy="665.39" r="2.65" fill="#fdf8f5" stroke="#000" stroke-width="1.15"/>
<circle cx="223.50" cy="676.77" r="2.65" fill="#fdf8f5" stroke="#000" stroke-width="1.15"/>
<circle cx="193.28" cy="689.25" r="2.65" fill="#fdf8f5" stroke="#000" stroke-width="1.15"/>
<circle cx="200.11" cy="700.63" r="2.65" fill="#fdf8f5" stroke="#000" stroke-width="1.15"/>
<circle cx="179.92" cy="726.79" r="2.65" fill="#fdf8f5" stroke="#000" stroke-width="1.15"/>
<circle cx="185.14" cy="727.09" r="2.65" fill="#fdf8f5" stroke="#000" stroke-width="1.15"/>
<circle cx="181.63" cy="734.58" r="2.65" fill="#fdf8f5" stroke="#000" stroke-width="1.15"/>
<circle cx="188.86" cy="737.77" r="2.65" fill="#fdf8f5" stroke="#000" stroke-width="1.15"/>
<circle cx="188.86" cy="742.57" r="2.65" fill="#fdf8f5" stroke="#000" stroke-width="1.15"/>
<circle cx="192.37" cy="746.06" r="2.65" fill="#fdf8f5" stroke="#000" stroke-width="1.15"/>
<circle cx="190.06" cy="749.56" r="2.65" fill="#fdf8f5" stroke="#000" stroke-width="1.15"/>
<circle cx="198.80" cy="741.67" r="2.65" fill="#fdf8f5" stroke="#000" stroke-width="1.15"/>
<circle cx="204.52" cy="740.37" r="2.65" fill="#fdf8f5" stroke="#000" stroke-width="1.15"/>
<circle cx="207.14" cy="741.67" r="2.65" fill="#fdf8f5" stroke="#000" stroke-width="1.15"/>
<circle cx="198.40" cy="750.45" r="2.65" fill="#fdf8f5" stroke="#000" stroke-width="1.15"/>
<circle cx="201.91" cy="749.16" r="2.65" fill="#fdf8f5" stroke="#000" stroke-width="1.15"/>
<circle cx="205.43" cy="747.86" r="2.65" fill="#fdf8f5" stroke="#000" stroke-width="1.15"/>
<circle cx="206.73" cy="751.75" r="2.65" fill="#fdf8f5" stroke="#000" stroke-width="1.15"/>
<circle cx="205.43" cy="757.04" r="2.65" fill="#fdf8f5" stroke="#000" stroke-width="1.15"/>
<circle cx="205.43" cy="758.74" r="2.65" fill="#fdf8f5" stroke="#000" stroke-width="1.15"/>
<circle cx="212.46" cy="756.54" r="2.65" fill="#fdf8f5" stroke="#000" stroke-width="1.15"/>
<circle cx="289.48" cy="778.71" r="2.65" fill="#fdf8f5" stroke="#000" stroke-width="1.15"/>
<circle cx="216.68" cy="677.17" r="2.65" fill="#f59a80" stroke="#000" stroke-width="1.15"/>
<circle cx="205.43" cy="691.85" r="2.65" fill="#f59a80" stroke="#000" stroke-width="1.15"/>
<circle cx="201.01" cy="754.35" r="2.65" fill="#f59a80" stroke="#000" stroke-width="1.15"/>
<circle cx="218.18" cy="767.53" r="2.65" fill="#f59a80" stroke="#000" stroke-width="1.15"/>
<circle cx="185.75" cy="724.70" r="2.65" fill="#a64c5c" stroke="#000" stroke-width="1.15"/>
<text x="76.20" y="803.49" font-size="7.2" text-anchor="middle" font-weight="normal" fill="#2a2a2a">GRIA3</text>
<text x="75.70" y="936.59" font-size="7.2" text-anchor="middle" font-weight="normal" fill="#2a2a2a">UMAP1</text>
<text x="9.20" y="868.89" font-size="7.2" text-anchor="middle" font-weight="normal" fill="#2a2a2a" transform="rotate(-90 9.20 866.30)">UMAP2</text>
<rect x="15.50" y="804.20" width="120.40" height="125.20" fill="none" stroke="#6e6e6e" stroke-width="1"/>
<defs><linearGradient id="cb15_804" x1="0" y1="1" x2="0" y2="0"><stop offset="0" stop-color="#fff7f3"/><stop offset="0.2" stop-color="#fcdcd0"/><stop offset="0.4" stop-color="#f8a890"/><stop offset="0.6" stop-color="#f07060"/><stop offset="0.8" stop-color="#c25060"/><stop offset="1.0" stop-color="#8e4a5a"/></linearGradient></defs>
<rect x="137.20" y="804.20" width="4.3" height="125.20" fill="url(#cb15_804)" stroke="#9a9a9a" stroke-width="0.7"/>
<line x1="141.50" y1="929.40" x2="143.00" y2="929.40" stroke="#333" stroke-width="0.7"/>
<text x="143.80" y="931.99" font-size="7.2" text-anchor="start" font-weight="normal" fill="#2a2a2a">0.0</text>
<line x1="141.50" y1="904.36" x2="143.00" y2="904.36" stroke="#333" stroke-width="0.7"/>
<text x="143.80" y="906.95" font-size="7.2" text-anchor="start" font-weight="normal" fill="#2a2a2a">0.2</text>
<line x1="141.50" y1="879.32" x2="143.00" y2="879.32" stroke="#333" stroke-width="0.7"/>
<text x="143.80" y="881.91" font-size="7.2" text-anchor="start" font-weight="normal" fill="#2a2a2a">0.4</text>
<line x1="141.50" y1="854.28" x2="143.00" y2="854.28" stroke="#333" stroke-width="0.7"/>
<text x="143.80" y="856.87" font-size="7.2" text-anchor="start" font-weight="normal" fill="#2a2a2a">0.6</text>
<line x1="141.50" y1="829.24" x2="143.00" y2="829.24" stroke="#333" stroke-width="0.7"/>
<text x="143.80" y="831.83" font-size="7.2" text-anchor="start" font-weight="normal" fill="#2a2a2a">0.8</text>
<line x1="141.50" y1="804.20" x2="143.00" y2="804.20" stroke="#333" stroke-width="0.7"/>
<text x="143.80" y="806.79" font-size="7.2" text-anchor="start" font-weight="normal" fill="#2a2a2a">1.0</text>
<circle cx="49.41" cy="810.11" r="2.65" fill="#fdf8f5" stroke="#000" stroke-width="1.15"/>
<circle cx="57.64" cy="821.93" r="2.65" fill="#fdf8f5" stroke="#000" stroke-width="1.15"/>
<circle cx="64.46" cy="821.53" r="2.65" fill="#fdf8f5" stroke="#000" stroke-width="1.15"/>
<circle cx="34.26" cy="834.05" r="2.65" fill="#fdf8f5" stroke="#000" stroke-width="1.15"/>
<circle cx="46.40" cy="836.65" r="2.65" fill="#fdf8f5" stroke="#000" stroke-width="1.15"/>
<circle cx="41.09" cy="845.47" r="2.65" fill="#fdf8f5" stroke="#000" stroke-width="1.15"/>
<circle cx="20.92" cy="871.71" r="2.65" fill="#fdf8f5" stroke="#000" stroke-width="1.15"/>
<circle cx="26.74" cy="869.60" r="2.65" fill="#fdf8f5" stroke="#000" stroke-width="1.15"/>
<circle cx="26.14" cy="872.01" r="2.65" fill="#fdf8f5" stroke="#000" stroke-width="1.15"/>
<circle cx="22.62" cy="879.52" r="2.65" fill="#fdf8f5" stroke="#000" stroke-width="1.15"/>
<circle cx="29.85" cy="882.73" r="2.65" fill="#fdf8f5" stroke="#000" stroke-width="1.15"/>
<circle cx="29.85" cy="887.53" r="2.65" fill="#fdf8f5" stroke="#000" stroke-width="1.15"/>
<circle cx="33.36" cy="891.04" r="2.65" fill="#fdf8f5" stroke="#000" stroke-width="1.15"/>
<circle cx="31.05" cy="894.54" r="2.65" fill="#fdf8f5" stroke="#000" stroke-width="1.15"/>
<circle cx="39.78" cy="886.63" r="2.65" fill="#fdf8f5" stroke="#000" stroke-width="1.15"/>
<circle cx="45.50" cy="885.33" r="2.65" fill="#fdf8f5" stroke="#000" stroke-width="1.15"/>
<circle cx="48.11" cy="886.63" r="2.65" fill="#fdf8f5" stroke="#000" stroke-width="1.15"/>
<circle cx="42.89" cy="894.14" r="2.65" fill="#fdf8f5" stroke="#000" stroke-width="1.15"/>
<circle cx="46.40" cy="892.84" r="2.65" fill="#fdf8f5" stroke="#000" stroke-width="1.15"/>
<circle cx="47.71" cy="896.75" r="2.65" fill="#fdf8f5" stroke="#000" stroke-width="1.15"/>
<circle cx="41.99" cy="899.35" r="2.65" fill="#fdf8f5" stroke="#000" stroke-width="1.15"/>
<circle cx="46.40" cy="902.06" r="2.65" fill="#fdf8f5" stroke="#000" stroke-width="1.15"/>
<circle cx="46.40" cy="903.76" r="2.65" fill="#fdf8f5" stroke="#000" stroke-width="1.15"/>
<circle cx="53.43" cy="901.56" r="2.65" fill="#fdf8f5" stroke="#000" stroke-width="1.15"/>
<circle cx="59.15" cy="912.57" r="2.65" fill="#fdf8f5" stroke="#000" stroke-width="1.15"/>
<circle cx="130.38" cy="923.79" r="2.65" fill="#fdf8f5" stroke="#000" stroke-width="1.15"/>
<circle cx="39.38" cy="895.45" r="2.65" fill="#f08068" stroke="#000" stroke-width="1.15"/>
<text x="235.50" y="803.79" font-size="7.2" text-anchor="middle" font-weight="normal" fill="#2a2a2a">GRID1</text>
<text x="235.00" y="936.49" font-size="7.2" text-anchor="middle" font-weight="normal" fill="#2a2a2a">UMAP1</text>
<text x="167.10" y="868.99" font-size="7.2" text-anchor="middle" font-weight="normal" fill="#2a2a2a" transform="rotate(-90 167.10 866.40)">UMAP2</text>
<rect x="173.40" y="804.50" width="123.20" height="124.80" fill="none" stroke="#6e6e6e" stroke-width="1"/>
<defs><linearGradient id="cb173_804" x1="0" y1="1" x2="0" y2="0"><stop offset="0" stop-color="#fff7f3"/><stop offset="0.2" stop-color="#fcdcd0"/><stop offset="0.4" stop-color="#f8a890"/><stop offset="0.6" stop-color="#f07060"/><stop offset="0.8" stop-color="#c25060"/><stop offset="1.0" stop-color="#8e4a5a"/></linearGradient></defs>
<rect x="297.90" y="804.50" width="4.3" height="124.80" fill="url(#cb173_804)" stroke="#9a9a9a" stroke-width="0.7"/>
<line x1="302.20" y1="929.30" x2="303.70" y2="929.30" stroke="#333" stroke-width="0.7"/>
<text x="304.50" y="931.89" font-size="7.2" text-anchor="start" font-weight="normal" fill="#2a2a2a">0.0</text>
<line x1="302.20" y1="904.34" x2="303.70" y2="904.34" stroke="#333" stroke-width="0.7"/>
<text x="304.50" y="906.93" font-size="7.2" text-anchor="start" font-weight="normal" fill="#2a2a2a">0.2</text>
<line x1="302.20" y1="879.38" x2="303.70" y2="879.38" stroke="#333" stroke-width="0.7"/>
<text x="304.50" y="881.97" font-size="7.2" text-anchor="start" font-weight="normal" fill="#2a2a2a">0.4</text>
<line x1="302.20" y1="854.42" x2="303.70" y2="854.42" stroke="#333" stroke-width="0.7"/>
<text x="304.50" y="857.01" font-size="7.2" text-anchor="start" font-weight="normal" fill="#2a2a2a">0.6</text>
<line x1="302.20" y1="829.46" x2="303.70" y2="829.46" stroke="#333" stroke-width="0.7"/>
<text x="304.50" y="832.05" font-size="7.2" text-anchor="start" font-weight="normal" fill="#2a2a2a">0.8</text>
<line x1="302.20" y1="804.50" x2="303.70" y2="804.50" stroke="#333" stroke-width="0.7"/>
<text x="304.50" y="807.09" font-size="7.2" text-anchor="start" font-weight="normal" fill="#2a2a2a">1.0</text>
<circle cx="208.10" cy="810.39" r="2.65" fill="#fdf8f5" stroke="#000" stroke-width="1.15"/>
<circle cx="216.52" cy="822.17" r="2.65" fill="#fdf8f5" stroke="#000" stroke-width="1.15"/>
<circle cx="192.60" cy="834.25" r="2.65" fill="#fdf8f5" stroke="#000" stroke-width="1.15"/>
<circle cx="199.58" cy="845.63" r="2.65" fill="#fdf8f5" stroke="#000" stroke-width="1.15"/>
<circle cx="178.94" cy="871.79" r="2.65" fill="#fdf8f5" stroke="#000" stroke-width="1.15"/>
<circle cx="184.90" cy="869.70" r="2.65" fill="#fdf8f5" stroke="#000" stroke-width="1.15"/>
<circle cx="184.28" cy="872.09" r="2.65" fill="#fdf8f5" stroke="#000" stroke-width="1.15"/>
<circle cx="180.69" cy="879.58" r="2.65" fill="#fdf8f5" stroke="#000" stroke-width="1.15"/>
<circle cx="188.08" cy="882.77" r="2.65" fill="#fdf8f5" stroke="#000" stroke-width="1.15"/>
<circle cx="188.08" cy="887.57" r="2.65" fill="#fdf8f5" stroke="#000" stroke-width="1.15"/>
<circle cx="189.31" cy="894.56" r="2.65" fill="#fdf8f5" stroke="#000" stroke-width="1.15"/>
<circle cx="204.10" cy="885.37" r="2.65" fill="#fdf8f5" stroke="#000" stroke-width="1.15"/>
<circle cx="201.43" cy="894.16" r="2.65" fill="#fdf8f5" stroke="#000" stroke-width="1.15"/>
<circle cx="205.02" cy="892.86" r="2.65" fill="#fdf8f5" stroke="#000" stroke-width="1.15"/>
<circle cx="200.50" cy="899.35" r="2.65" fill="#fdf8f5" stroke="#000" stroke-width="1.15"/>
<circle cx="205.02" cy="902.04" r="2.65" fill="#fdf8f5" stroke="#000" stroke-width="1.15"/>
<circle cx="205.02" cy="903.74" r="2.65" fill="#fdf8f5" stroke="#000" stroke-width="1.15"/>
<circle cx="206.77" cy="886.67" r="2.65" fill="#f59a80" stroke="#000" stroke-width="1.15"/>
<circle cx="290.95" cy="923.71" r="2.65" fill="#f59a80" stroke="#000" stroke-width="1.15"/>
<circle cx="223.50" cy="821.77" r="2.65" fill="#f08068" stroke="#000" stroke-width="1.15"/>
<circle cx="197.83" cy="895.45" r="2.65" fill="#f08068" stroke="#000" stroke-width="1.15"/>
<circle cx="206.36" cy="896.75" r="2.65" fill="#f08068" stroke="#000" stroke-width="1.15"/>
<circle cx="191.67" cy="891.06" r="2.65" fill="#e06262" stroke="#000" stroke-width="1.15"/>
<circle cx="212.21" cy="901.54" r="2.65" fill="#e06262" stroke="#000" stroke-width="1.15"/>
<circle cx="205.02" cy="836.85" r="2.65" fill="#a64c5c" stroke="#000" stroke-width="1.15"/>
<circle cx="198.25" cy="886.67" r="2.65" fill="#a64c5c" stroke="#000" stroke-width="1.15"/>
<circle cx="218.06" cy="912.53" r="2.65" fill="#a64c5c" stroke="#000" stroke-width="1.15"/>
<text x="332.00" y="364.79" font-size="12.2" text-anchor="start" font-weight="bold" fill="#111" textLength="7.3" lengthAdjust="spacingAndGlyphs">H</text>
<line x1="368.20" y1="391.20" x2="368.20" y2="538.30" stroke="#4a4a4a" stroke-width="1.0"/>
<line x1="362.50" y1="401.39" x2="368.20" y2="401.39" stroke="#4a4a4a" stroke-width="1.0"/>
<text x="358.50" y="405.35" font-size="11" text-anchor="end" font-weight="normal" fill="#1f1f1f">150</text>
<line x1="362.50" y1="447.03" x2="368.20" y2="447.03" stroke="#4a4a4a" stroke-width="1.0"/>
<text x="358.50" y="450.99" font-size="11" text-anchor="end" font-weight="normal" fill="#1f1f1f">100</text>
<line x1="362.50" y1="492.66" x2="368.20" y2="492.66" stroke="#4a4a4a" stroke-width="1.0"/>
<text x="358.50" y="496.62" font-size="11" text-anchor="end" font-weight="normal" fill="#1f1f1f">50</text>
<line x1="362.50" y1="538.30" x2="368.20" y2="538.30" stroke="#4a4a4a" stroke-width="1.0"/>
<text x="358.50" y="542.26" font-size="11" text-anchor="end" font-weight="normal" fill="#1f1f1f">0</text>
<line x1="368.20" y1="538.30" x2="466.60" y2="538.30" stroke="#4a4a4a" stroke-width="1.0"/>
<line x1="395.90" y1="538.30" x2="395.90" y2="543.60" stroke="#4a4a4a" stroke-width="1.0"/>
<line x1="437.30" y1="538.30" x2="437.30" y2="543.60" stroke="#4a4a4a" stroke-width="1.0"/>
<text x="395.60" y="556.16" font-size="11" text-anchor="middle" font-weight="normal" fill="#1f1f1f">H69</text>
<text x="436.50" y="556.16" font-size="11" text-anchor="middle" font-weight="normal" fill="#1f1f1f">CO H69</text>
<text x="332.40" y="475.36" font-size="11" text-anchor="middle" font-weight="normal" fill="#1f1f1f" transform="rotate(-90 332.40 471.40)" textLength="115.6" lengthAdjust="spacingAndGlyphs">Cell viability (% control)</text>
<text x="416.70" y="386.16" font-size="11" text-anchor="middle" font-weight="normal" fill="#1f1f1f">&lt;0.0001</text>
<line x1="395.90" y1="389.10" x2="438.10" y2="389.10" stroke="#4a4a4a" stroke-width="1.1"/>
<path d="M396.00 427.60 C396.42 428.00 397.28 429.20 397.90 430.00 C398.52 430.80 399.35 431.55 399.70 432.40 C400.05 433.25 399.98 434.33 400.00 435.10 C400.02 435.87 399.78 436.30 399.80 437.00 C399.82 437.70 400.08 438.55 400.10 439.30 C400.12 440.05 400.02 440.78 399.90 441.50 C399.78 442.22 399.35 442.90 399.40 443.60 C399.45 444.30 399.35 444.98 400.20 445.70 C401.05 446.42 403.20 447.18 404.50 447.90 C405.80 448.62 407.28 449.38 408.00 450.00 C408.72 450.62 408.80 451.07 408.80 451.60 C408.80 452.13 408.85 452.58 408.00 453.20 C407.15 453.82 405.30 454.58 403.70 455.30 C402.10 456.02 399.68 456.87 398.40 457.50 C397.12 458.13 396.50 458.83 396.00 459.10 C395.50 459.37 395.90 459.37 395.40 459.10 C394.90 458.83 394.28 458.13 393.00 457.50 C391.72 456.87 389.30 456.02 387.70 455.30 C386.10 454.58 384.25 453.82 383.40 453.20 C382.55 452.58 382.60 452.13 382.60 451.60 C382.60 451.07 382.68 450.62 383.40 450.00 C384.12 449.38 385.60 448.62 386.90 447.90 C388.20 447.18 390.35 446.42 391.20 445.70 C392.05 444.98 391.95 444.30 392.00 443.60 C392.05 442.90 391.62 442.22 391.50 441.50 C391.38 440.78 391.28 440.05 391.30 439.30 C391.32 438.55 391.58 437.70 391.60 437.00 C391.62 436.30 391.38 435.87 391.40 435.10 C391.42 434.33 391.35 433.25 391.70 432.40 C392.05 431.55 392.88 430.80 393.50 430.00 C394.12 429.20 394.98 428.00 395.40 427.60 C395.82 427.20 395.58 427.20 396.00 427.60 Z" fill="none" stroke="#111" stroke-width="1.05" stroke-linejoin="round"/>
<line x1="384.00" y1="450.20" x2="407.40" y2="450.20" stroke="#111" stroke-width="1.35" stroke-dasharray="2.2 1.3"/>
<line x1="385.30" y1="452.80" x2="406.10" y2="452.80" stroke="#111" stroke-width="1.05" stroke-dasharray="1.0 1.3"/>
<line x1="393.70" y1="439.30" x2="397.70" y2="439.30" stroke="#111" stroke-width="1.05" stroke-dasharray="1.0 1.3"/>
<line x1="395.70" y1="423.30" x2="395.70" y2="428.00" stroke="#111" stroke-width="0.9"/>
<line x1="395.70" y1="459.00" x2="395.70" y2="463.30" stroke="#111" stroke-width="0.9"/>
<path d="M438.20 400.50 C438.87 400.90 440.72 402.27 441.60 402.90 C442.48 403.53 443.15 403.68 443.50 404.30 C443.85 404.92 443.23 405.98 443.70 406.60 C444.17 407.22 445.25 407.45 446.30 408.00 C447.35 408.55 449.25 409.35 450.00 409.90 C450.75 410.45 451.10 410.83 450.80 411.30 C450.50 411.77 448.95 412.23 448.20 412.70 C447.45 413.17 446.07 413.55 446.30 414.10 C446.53 414.65 449.02 415.53 449.60 416.00 C450.18 416.47 450.35 416.52 449.80 416.90 C449.25 417.28 447.82 417.75 446.30 418.30 C444.78 418.85 442.07 419.73 440.70 420.20 C439.33 420.67 438.60 420.95 438.10 421.10 C437.60 421.25 438.20 421.25 437.70 421.10 C437.20 420.95 436.47 420.67 435.10 420.20 C433.73 419.73 431.02 418.85 429.50 418.30 C427.98 417.75 426.55 417.28 426.00 416.90 C425.45 416.52 425.62 416.47 426.20 416.00 C426.78 415.53 429.27 414.65 429.50 414.10 C429.73 413.55 428.35 413.17 427.60 412.70 C426.85 412.23 425.30 411.77 425.00 411.30 C424.70 410.83 425.05 410.45 425.80 409.90 C426.55 409.35 428.45 408.55 429.50 408.00 C430.55 407.45 431.63 407.22 432.10 406.60 C432.57 405.98 431.95 404.92 432.30 404.30 C432.65 403.68 433.32 403.53 434.20 402.90 C435.08 402.27 436.93 400.90 437.60 400.50 C438.27 400.10 437.53 400.10 438.20 400.50 Z" fill="none" stroke="#111" stroke-width="1.05" stroke-linejoin="round"/>
<line x1="432.60" y1="407.80" x2="443.20" y2="407.80" stroke="#111" stroke-width="1.05" stroke-dasharray="1.0 1.3"/>
<line x1="427.60" y1="411.80" x2="448.20" y2="411.80" stroke="#111" stroke-width="1.35" stroke-dasharray="2.2 1.3"/>
<line x1="428.30" y1="416.70" x2="447.50" y2="416.70" stroke="#111" stroke-width="1.05" stroke-dasharray="1.0 1.3"/>
<line x1="437.90" y1="398.20" x2="437.90" y2="401.00" stroke="#111" stroke-width="0.9"/>
<line x1="437.90" y1="421.00" x2="437.90" y2="422.50" stroke="#111" stroke-width="0.9"/>
<text x="488.60" y="368.99" font-size="12.2" text-anchor="start" font-weight="bold" fill="#111" textLength="2.4" lengthAdjust="spacingAndGlyphs">I</text>
<line x1="507.80" y1="390.30" x2="507.80" y2="538.00" stroke="#4a4a4a" stroke-width="1.0"/>
<line x1="502.20" y1="399.81" x2="507.80" y2="399.81" stroke="#4a4a4a" stroke-width="1.0"/>
<text x="497.70" y="403.76" font-size="11" text-anchor="end" font-weight="normal" fill="#1f1f1f">150</text>
<line x1="502.20" y1="445.87" x2="507.80" y2="445.87" stroke="#4a4a4a" stroke-width="1.0"/>
<text x="497.70" y="449.83" font-size="11" text-anchor="end" font-weight="normal" fill="#1f1f1f">100</text>
<line x1="502.20" y1="491.94" x2="507.80" y2="491.94" stroke="#4a4a4a" stroke-width="1.0"/>
<text x="497.70" y="495.89" font-size="11" text-anchor="end" font-weight="normal" fill="#1f1f1f">50</text>
<line x1="502.20" y1="538.00" x2="507.80" y2="538.00" stroke="#4a4a4a" stroke-width="1.0"/>
<text x="497.70" y="541.96" font-size="11" text-anchor="end" font-weight="normal" fill="#1f1f1f">0</text>
<line x1="507.80" y1="538.00" x2="670.40" y2="538.00" stroke="#4a4a4a" stroke-width="1.0"/>
<line x1="533.00" y1="538.00" x2="533.00" y2="544.40" stroke="#4a4a4a" stroke-width="1.0"/>
<line x1="569.20" y1="538.00" x2="569.20" y2="544.40" stroke="#4a4a4a" stroke-width="1.0"/>
<line x1="607.20" y1="538.00" x2="607.20" y2="544.40" stroke="#4a4a4a" stroke-width="1.0"/>
<line x1="644.60" y1="538.00" x2="644.60" y2="544.40" stroke="#4a4a4a" stroke-width="1.0"/>
<text x="516.50" y="558.86" font-size="11" text-anchor="end" font-weight="normal" fill="#1f1f1f">CO-CM</text>
<text x="515.90" y="578.26" font-size="11" text-anchor="end" font-weight="normal" fill="#1f1f1f">Bic</text>
<text x="532.70" y="558.06" font-size="11" text-anchor="middle" font-weight="normal" fill="#1f1f1f">–</text>
<text x="569.60" y="558.76" font-size="11" text-anchor="middle" font-weight="normal" fill="#1f1f1f">–</text>
<text x="606.80" y="560.76" font-size="11" text-anchor="middle" font-weight="normal" fill="#1f1f1f">+</text>
<text x="644.90" y="558.46" font-size="11" text-anchor="middle" font-weight="normal" fill="#1f1f1f">+</text>
<text x="532.70" y="578.36" font-size="11" text-anchor="middle" font-weight="normal" fill="#1f1f1f">–</text>
<text x="568.20" y="579.46" font-size="11" text-anchor="middle" font-weight="normal" fill="#1f1f1f">+</text>
<text x="606.80" y="579.76" font-size="11" text-anchor="middle" font-weight="normal" fill="#1f1f1f">–</text>
<text x="644.90" y="577.86" font-size="11" text-anchor="middle" font-weight="normal" fill="#1f1f1f">+</text>
<text x="589.20" y="397.86" font-size="11" text-anchor="middle" font-weight="normal" fill="#1f1f1f">0.0284</text>
<line x1="533.00" y1="401.40" x2="644.60" y2="401.40" stroke="#4a4a4a" stroke-width="1.1"/>
<text x="627.60" y="420.26" font-size="11" text-anchor="middle" font-weight="normal" fill="#1f1f1f">0.0486</text>
<line x1="610.80" y1="423.20" x2="644.60" y2="423.20" stroke="#4a4a4a" stroke-width="1.1"/>
<path d="M532.90 443.60 L535.60 444.60 L544.10 445.30 L536.60 446.20 L532.90 447.00 L532.30 447.00 L528.60 446.20 L521.10 445.30 L529.60 444.60 L532.30 443.60 Z" fill="#111" stroke="none" stroke-width="0" stroke-linejoin="round"/>
<path d="M570.30 446.60 L575.00 447.20 L581.00 447.90 L575.00 448.70 L570.30 449.30 L569.70 449.30 L565.00 448.70 L559.00 447.90 L565.00 447.20 L569.70 446.60 Z" fill="#111" stroke="none" stroke-width="0" stroke-linejoin="round"/>
<path d="M607.80 445.30 L615.50 446.00 L619.00 447.30 L615.50 448.60 L607.80 449.30 L607.20 449.30 L599.50 448.60 L596.00 447.30 L599.50 446.00 L607.20 445.30 Z" fill="#111" stroke="none" stroke-width="0" stroke-linejoin="round"/>
<path d="M645.00 444.50 C645.80 444.97 647.65 446.37 649.20 447.30 C650.75 448.23 653.13 449.08 654.30 450.10 C655.47 451.12 656.20 452.47 656.20 453.40 C656.20 454.33 655.17 454.92 654.30 455.70 C653.43 456.48 651.82 457.32 651.00 458.10 C650.18 458.88 649.32 459.62 649.40 460.40 C649.48 461.18 650.95 462.02 651.50 462.80 C652.05 463.58 652.93 464.23 652.70 465.10 C652.47 465.97 651.17 467.05 650.10 468.00 C649.03 468.95 647.17 470.10 646.30 470.80 C645.43 471.50 645.20 471.97 644.90 472.20 C644.60 472.43 644.80 472.43 644.50 472.20 C644.20 471.97 643.97 471.50 643.10 470.80 C642.23 470.10 640.37 468.95 639.30 468.00 C638.23 467.05 636.93 465.97 636.70 465.10 C636.47 464.23 637.35 463.58 637.90 462.80 C638.45 462.02 639.92 461.18 640.00 460.40 C640.08 459.62 639.22 458.88 638.40 458.10 C637.58 457.32 635.97 456.48 635.10 455.70 C634.23 454.92 633.20 454.33 633.20 453.40 C633.20 452.47 633.93 451.12 635.10 450.10 C636.27 449.08 638.65 448.23 640.20 447.30 C641.75 446.37 643.60 444.97 644.40 444.50 C645.20 444.03 644.20 444.03 645.00 444.50 Z" fill="none" stroke="#111" stroke-width="1.05" stroke-linejoin="round"/>
<line x1="637.70" y1="451.30" x2="651.70" y2="451.30" stroke="#111" stroke-width="1.05" stroke-dasharray="1.0 1.3"/>
<line x1="635.90" y1="456.20" x2="653.50" y2="456.20" stroke="#111" stroke-width="1.35" stroke-dasharray="2.2 1.3"/>
<line x1="639.20" y1="465.40" x2="650.20" y2="465.40" stroke="#111" stroke-width="1.05" stroke-dasharray="1.0 1.3"/>
<line x1="644.70" y1="441.20" x2="644.70" y2="444.80" stroke="#111" stroke-width="0.9"/>
<line x1="644.70" y1="472.00" x2="644.70" y2="475.50" stroke="#111" stroke-width="0.9"/>
<text x="330.80" y="620.69" font-size="12.2" text-anchor="start" font-weight="bold" fill="#111" textLength="5.9" lengthAdjust="spacingAndGlyphs">J</text>
<text x="426.10" y="622.36" font-size="11" text-anchor="middle" font-weight="normal" fill="#1f1f1f" textLength="67.1" lengthAdjust="spacingAndGlyphs">CO + DMSO</text>
<text x="585.10" y="622.56" font-size="11" text-anchor="middle" font-weight="normal" fill="#1f1f1f" textLength="85.1" lengthAdjust="spacingAndGlyphs">CO-H69 + DMSO</text>
<text x="425.00" y="669.06" font-size="11" text-anchor="middle" font-weight="normal" fill="#1f1f1f" textLength="44.2" lengthAdjust="spacingAndGlyphs">CO + Bic</text>
<text x="584.60" y="671.96" font-size="11" text-anchor="middle" font-weight="normal" fill="#1f1f1f" textLength="67.9" lengthAdjust="spacingAndGlyphs">CO-H69 + Bic</text>
<text x="657.40" y="671.96" font-size="11" text-anchor="middle" font-weight="normal" fill="#1f1f1f" textLength="45.0" lengthAdjust="spacingAndGlyphs">200 A.U.</text>
<text x="652.30" y="682.46" font-size="11" text-anchor="middle" font-weight="normal" fill="#1f1f1f" textLength="20.4" lengthAdjust="spacingAndGlyphs">30 s</text>
<path d="M628.40 672.40 L628.40 685.00 L670.70 685.00" stroke="#222" stroke-width="1.1" fill="none" stroke-linejoin="round"/>
<path d="M349.20 643.40 L353.10 644.00 L359.10 644.00 L359.70 627.30 L361.70 637.20 L363.40 624.00 L364.70 633.90 L365.90 620.80 L366.90 631.30 L368.00 620.10 L369.20 632.60 L371.50 621.40 L372.80 631.50 L374.50 636.50 L376.50 640.50 L379.40 643.80 L384.00 645.00 L408.30 645.30 L409.00 629.30 L410.50 635.50 L413.60 641.80 L418.00 644.80 L430.00 646.60 L433.50 646.00 L435.00 645.20 L436.50 646.00 L459.40 647.30 L460.50 630.60 L461.80 639.20 L464.00 628.00 L465.50 635.50 L467.50 641.00 L469.90 644.40 L473.00 646.30 L476.50 647.30 L477.80 632.00 L479.80 641.80 L481.80 631.30 L483.30 640.50 L485.70 629.30 L487.20 636.50 L489.00 641.50 L491.00 644.40 L494.00 645.80 L495.50 645.00 L497.00 646.50 L498.80 647.30 L500.80 633.20 L501.70 635.20" stroke="#1a1a1a" stroke-width="1.1" fill="none" stroke-linejoin="round"/>
<path d="M511.20 644.10 L553.40 645.60 L554.10 636.90 L555.90 644.40 L557.10 637.40 L558.30 642.00 L559.60 644.90 L565.30 637.90 L566.50 643.50 L568.30 645.80 L576.00 645.80 L576.50 637.90 L578.00 644.50 L579.40 646.80 L598.00 646.80 L598.80 639.40 L600.00 640.40 L601.30 639.40 L602.50 644.50 L604.30 647.30 L640.20 649.00 L641.50 640.60 L642.50 646.00 L644.00 648.60 L660.10 649.00 L661.30 641.10 L662.50 645.00 L663.80 647.80" stroke="#1a1a1a" stroke-width="1.1" fill="none" stroke-linejoin="round"/>
<path d="M349.60 709.70 L352.90 710.70 L356.20 712.30 L357.50 702.40 L358.80 707.30 L360.50 703.40 L362.10 707.70 L364.40 712.00 L367.30 711.60 L368.70 713.40 L371.30 714.70 L373.20 717.60 L376.50 718.20 L380.50 718.90 L384.40 719.10 L386.00 711.20 L388.40 716.20 L391.20 709.70 L393.40 715.60 L395.20 718.20 L397.60 716.50 L399.50 718.90 L402.80 720.80 L404.80 718.60 L406.80 718.90 L409.40 717.60 L411.40 718.20 L412.30 714.30 L413.30 674.20 L414.60 687.30 L416.20 701.80 L417.90 691.30 L419.90 701.80 L423.80 710.30 L425.40 709.70 L427.40 671.60 L428.90 691.30 L430.90 705.70 L434.20 711.60 L436.20 684.70 L438.10 699.20 L440.80 707.00 L442.70 704.40 L444.70 709.70 L447.30 714.30 L448.90 695.20 L450.60 709.70 L453.20 714.30 L457.20 716.90 L459.80 698.50 L462.40 711.00 L467.00 718.90 L471.00 721.50 L477.60 717.60 L482.80 721.50 L486.80 722.20 L489.40 719.50 L491.40 712.30 L493.30 720.80 L497.30 711.60 L499.20 715.60 L501.20 718.20 L502.50 704.40" stroke="#9b2fb5" stroke-width="1.25" fill="none" stroke-linejoin="round"/>
<path d="M514.00 712.90 L519.40 714.60 L521.10 709.70 L521.60 703.00 L523.50 698.90 L524.80 700.30 L529.70 707.00 L535.10 713.80 L543.20 716.50 L560.80 720.50 L562.90 716.50 L566.00 718.50 L578.30 721.90 L594.50 723.20 L614.80 724.00 L616.70 718.60 L620.20 719.20 L624.20 717.30 L627.00 717.50 L630.40 711.90 L633.70 714.60 L637.70 716.00 L639.90 713.80 L643.10 716.50 L653.90 721.90 L666.10 723.20" stroke="#9b2fb5" stroke-width="1.25" fill="none" stroke-linejoin="round"/>
<text x="329.80" y="752.89" font-size="12.2" text-anchor="start" font-weight="bold" fill="#111" textLength="8.1" lengthAdjust="spacingAndGlyphs">K</text>
<line x1="369.90" y1="770.40" x2="369.90" y2="897.80" stroke="#4a4a4a" stroke-width="1.0"/>
<line x1="364.30" y1="897.80" x2="369.90" y2="897.80" stroke="#4a4a4a" stroke-width="1.0"/>
<text x="362.30" y="901.76" font-size="11" text-anchor="end" font-weight="normal" fill="#1f1f1f">0</text>
<line x1="364.30" y1="872.32" x2="369.90" y2="872.32" stroke="#4a4a4a" stroke-width="1.0"/>
<text x="362.30" y="876.28" font-size="11" text-anchor="end" font-weight="normal" fill="#1f1f1f">1</text>
<line x1="364.30" y1="846.84" x2="369.90" y2="846.84" stroke="#4a4a4a" stroke-width="1.0"/>
<text x="362.30" y="850.80" font-size="11" text-anchor="end" font-weight="normal" fill="#1f1f1f">2</text>
<line x1="364.30" y1="821.36" x2="369.90" y2="821.36" stroke="#4a4a4a" stroke-width="1.0"/>
<text x="362.30" y="825.32" font-size="11" text-anchor="end" font-weight="normal" fill="#1f1f1f">3</text>
<line x1="364.30" y1="795.88" x2="369.90" y2="795.88" stroke="#4a4a4a" stroke-width="1.0"/>
<text x="362.30" y="799.84" font-size="11" text-anchor="end" font-weight="normal" fill="#1f1f1f">4</text>
<line x1="364.30" y1="770.40" x2="369.90" y2="770.40" stroke="#4a4a4a" stroke-width="1.0"/>
<text x="362.30" y="774.36" font-size="11" text-anchor="end" font-weight="normal" fill="#1f1f1f">5</text>
<line x1="369.90" y1="897.80" x2="502.10" y2="897.80" stroke="#4a4a4a" stroke-width="1.0"/>
<line x1="387.30" y1="897.80" x2="387.30" y2="902.80" stroke="#4a4a4a" stroke-width="1.0"/>
<line x1="413.80" y1="897.80" x2="413.80" y2="902.80" stroke="#4a4a4a" stroke-width="1.0"/>
<line x1="457.20" y1="897.80" x2="457.20" y2="902.80" stroke="#4a4a4a" stroke-width="1.0"/>
<line x1="483.50" y1="897.80" x2="483.50" y2="902.80" stroke="#4a4a4a" stroke-width="1.0"/>
<text x="345.80" y="840.16" font-size="11" text-anchor="middle" font-weight="normal" fill="#1f1f1f" transform="rotate(-90 345.80 836.20)">Frequency (Hz)</text>
<text x="386.50" y="914.96" font-size="11" text-anchor="middle" font-weight="normal" fill="#1f1f1f">Ctrl</text>
<text x="413.60" y="914.96" font-size="11" text-anchor="middle" font-weight="normal" fill="#1f1f1f">H69</text>
<text x="458.00" y="914.96" font-size="11" text-anchor="middle" font-weight="normal" fill="#1f1f1f">Ctrl</text>
<text x="485.00" y="914.96" font-size="11" text-anchor="middle" font-weight="normal" fill="#1f1f1f">H69</text>
<rect x="378.60" y="866.40" width="17.10" height="31.40" fill="none" stroke="#333" stroke-width="1.0"/>
<line x1="378.60" y1="892.90" x2="395.70" y2="892.90" stroke="#333" stroke-width="1.0"/>
<line x1="387.30" y1="815.80" x2="387.30" y2="866.40" stroke="#333" stroke-width="1.0"/>
<line x1="383.30" y1="815.80" x2="391.30" y2="815.80" stroke="#333" stroke-width="1.0"/>
<rect x="405.50" y="866.40" width="16.60" height="31.40" fill="none" stroke="#333" stroke-width="1.0"/>
<line x1="405.50" y1="889.20" x2="422.10" y2="889.20" stroke="#333" stroke-width="1.0"/>
<line x1="413.80" y1="802.30" x2="413.80" y2="866.40" stroke="#333" stroke-width="1.0"/>
<line x1="409.80" y1="802.30" x2="417.80" y2="802.30" stroke="#333" stroke-width="1.0"/>
<rect x="448.60" y="839.40" width="17.30" height="58.40" fill="none" stroke="#b06ad0" stroke-width="1.0"/>
<line x1="448.60" y1="888.80" x2="465.90" y2="888.80" stroke="#b06ad0" stroke-width="1.0"/>
<line x1="457.30" y1="779.60" x2="457.30" y2="839.40" stroke="#b06ad0" stroke-width="1.0"/>
<line x1="453.30" y1="779.60" x2="461.30" y2="779.60" stroke="#b06ad0" stroke-width="1.0"/>
<rect x="475.00" y="889.30" width="17.10" height="8.50" fill="none" stroke="#b06ad0" stroke-width="1.0"/>
<line x1="475.00" y1="891.50" x2="492.10" y2="891.50" stroke="#b06ad0" stroke-width="1.0"/>
<line x1="483.50" y1="881.60" x2="483.50" y2="889.30" stroke="#b06ad0" stroke-width="1.0"/>
<line x1="479.50" y1="881.60" x2="487.50" y2="881.60" stroke="#b06ad0" stroke-width="1.0"/>
<circle cx="387.40" cy="815.80" r="2.15" fill="#0a0a0a"/>
<circle cx="387.40" cy="822.50" r="2.15" fill="#0a0a0a"/>
<circle cx="387.10" cy="838.90" r="2.15" fill="#0a0a0a"/>
<circle cx="387.10" cy="847.70" r="2.15" fill="#0a0a0a"/>
<circle cx="387.40" cy="852.60" r="2.15" fill="#0a0a0a"/>
<circle cx="387.40" cy="866.10" r="2.15" fill="#0a0a0a"/>
<circle cx="387.40" cy="868.30" r="2.15" fill="#0a0a0a"/>
<circle cx="387.40" cy="888.20" r="2.15" fill="#0a0a0a"/>
<circle cx="380.50" cy="895.50" r="2.15" fill="#0a0a0a"/>
<circle cx="383.50" cy="896.50" r="2.15" fill="#0a0a0a"/>
<circle cx="386.50" cy="895.00" r="2.15" fill="#0a0a0a"/>
<circle cx="389.50" cy="896.50" r="2.15" fill="#0a0a0a"/>
<circle cx="392.50" cy="895.50" r="2.15" fill="#0a0a0a"/>
<circle cx="395.00" cy="896.00" r="2.15" fill="#0a0a0a"/>
<circle cx="381.50" cy="893.00" r="2.15" fill="#0a0a0a"/>
<circle cx="385.00" cy="892.50" r="2.15" fill="#0a0a0a"/>
<circle cx="388.50" cy="892.50" r="2.15" fill="#0a0a0a"/>
<circle cx="392.00" cy="893.00" r="2.15" fill="#0a0a0a"/>
<circle cx="384.00" cy="898.50" r="2.15" fill="#0a0a0a"/>
<circle cx="388.00" cy="899.00" r="2.15" fill="#0a0a0a"/>
<circle cx="391.50" cy="898.50" r="2.15" fill="#0a0a0a"/>
<circle cx="387.40" cy="890.00" r="2.15" fill="#0a0a0a"/>
<circle cx="413.80" cy="802.30" r="2.15" fill="#0a0a0a"/>
<circle cx="413.10" cy="837.60" r="2.15" fill="#0a0a0a"/>
<circle cx="414.70" cy="840.10" r="2.15" fill="#0a0a0a"/>
<circle cx="413.80" cy="857.30" r="2.15" fill="#0a0a0a"/>
<circle cx="413.80" cy="861.80" r="2.15" fill="#0a0a0a"/>
<circle cx="413.80" cy="866.40" r="2.15" fill="#0a0a0a"/>
<circle cx="413.80" cy="880.30" r="2.15" fill="#0a0a0a"/>
<circle cx="411.70" cy="885.80" r="2.15" fill="#0a0a0a"/>
<circle cx="416.60" cy="886.40" r="2.15" fill="#0a0a0a"/>
<circle cx="406.50" cy="894.50" r="2.15" fill="#0a0a0a"/>
<circle cx="409.50" cy="895.50" r="2.15" fill="#0a0a0a"/>
<circle cx="413.00" cy="894.50" r="2.15" fill="#0a0a0a"/>
<circle cx="416.50" cy="895.50" r="2.15" fill="#0a0a0a"/>
<circle cx="420.00" cy="894.50" r="2.15" fill="#0a0a0a"/>
<circle cx="408.00" cy="891.00" r="2.15" fill="#0a0a0a"/>
<circle cx="412.00" cy="891.50" r="2.15" fill="#0a0a0a"/>
<circle cx="416.00" cy="891.00" r="2.15" fill="#0a0a0a"/>
<circle cx="419.50" cy="892.00" r="2.15" fill="#0a0a0a"/>
<circle cx="410.50" cy="898.50" r="2.15" fill="#0a0a0a"/>
<circle cx="414.50" cy="899.00" r="2.15" fill="#0a0a0a"/>
<circle cx="418.50" cy="898.50" r="2.15" fill="#0a0a0a"/>
<circle cx="413.80" cy="888.50" r="2.15" fill="#0a0a0a"/>
<circle cx="457.30" cy="779.60" r="2.15" fill="#0a0a0a"/>
<circle cx="455.10" cy="837.00" r="2.15" fill="#0a0a0a"/>
<circle cx="459.90" cy="834.80" r="2.15" fill="#0a0a0a"/>
<circle cx="459.40" cy="839.60" r="2.15" fill="#0a0a0a"/>
<circle cx="457.00" cy="855.30" r="2.15" fill="#0a0a0a"/>
<circle cx="455.10" cy="884.50" r="2.15" fill="#0a0a0a"/>
<circle cx="459.40" cy="883.10" r="2.15" fill="#0a0a0a"/>
<circle cx="450.40" cy="888.80" r="2.15" fill="#0a0a0a"/>
<circle cx="464.20" cy="891.00" r="2.15" fill="#0a0a0a"/>
<circle cx="450.40" cy="893.10" r="2.15" fill="#0a0a0a"/>
<circle cx="455.10" cy="892.70" r="2.15" fill="#0a0a0a"/>
<circle cx="459.40" cy="893.10" r="2.15" fill="#0a0a0a"/>
<circle cx="450.40" cy="897.50" r="2.15" fill="#0a0a0a"/>
<circle cx="459.40" cy="897.50" r="2.15" fill="#0a0a0a"/>
<circle cx="464.20" cy="896.50" r="2.15" fill="#0a0a0a"/>
<circle cx="483.50" cy="881.60" r="2.15" fill="#0a0a0a"/>
<circle cx="482.50" cy="886.00" r="2.15" fill="#0a0a0a"/>
<circle cx="483.50" cy="891.00" r="2.15" fill="#0a0a0a"/>
<circle cx="477.00" cy="896.70" r="2.15" fill="#0a0a0a"/>
<circle cx="480.00" cy="896.70" r="2.15" fill="#0a0a0a"/>
<circle cx="483.00" cy="896.70" r="2.15" fill="#0a0a0a"/>
<circle cx="486.00" cy="896.70" r="2.15" fill="#0a0a0a"/>
<circle cx="489.00" cy="896.70" r="2.15" fill="#0a0a0a"/>
<circle cx="491.00" cy="896.70" r="2.15" fill="#0a0a0a"/>
<circle cx="479.00" cy="895.00" r="2.15" fill="#0a0a0a"/>
<circle cx="488.00" cy="895.00" r="2.15" fill="#0a0a0a"/>
<path d="M387.30 808.00 L387.30 764.70 L413.80 764.70 L413.80 796.20" stroke="#4a4a4a" stroke-width="1.0" fill="none" stroke-linejoin="round"/>
<text x="400.90" y="762.06" font-size="11" text-anchor="middle" font-weight="normal" fill="#1f1f1f">0.9849</text>
<path d="M457.30 775.20 L457.30 764.70 L483.50 764.70 L483.50 875.00" stroke="#4a4a4a" stroke-width="1.0" fill="none" stroke-linejoin="round"/>
<text x="470.60" y="762.06" font-size="11" text-anchor="middle" font-weight="normal" fill="#1f1f1f">0.0179</text>
<text x="496.40" y="752.39" font-size="12.2" text-anchor="start" font-weight="bold" fill="#111" textLength="6.4" lengthAdjust="spacingAndGlyphs">L</text>
<line x1="551.00" y1="767.80" x2="551.00" y2="897.60" stroke="#4a4a4a" stroke-width="1.0"/>
<line x1="545.40" y1="897.60" x2="551.00" y2="897.60" stroke="#4a4a4a" stroke-width="1.0"/>
<text x="542.60" y="901.56" font-size="11" text-anchor="end" font-weight="normal" fill="#1f1f1f">0</text>
<line x1="545.40" y1="871.64" x2="551.00" y2="871.64" stroke="#4a4a4a" stroke-width="1.0"/>
<text x="542.60" y="875.60" font-size="11" text-anchor="end" font-weight="normal" fill="#1f1f1f">100</text>
<line x1="545.40" y1="845.68" x2="551.00" y2="845.68" stroke="#4a4a4a" stroke-width="1.0"/>
<text x="542.60" y="849.64" font-size="11" text-anchor="end" font-weight="normal" fill="#1f1f1f">200</text>
<line x1="545.40" y1="819.72" x2="551.00" y2="819.72" stroke="#4a4a4a" stroke-width="1.0"/>
<text x="542.60" y="823.68" font-size="11" text-anchor="end" font-weight="normal" fill="#1f1f1f">300</text>
<line x1="545.40" y1="793.76" x2="551.00" y2="793.76" stroke="#4a4a4a" stroke-width="1.0"/>
<text x="542.60" y="797.72" font-size="11" text-anchor="end" font-weight="normal" fill="#1f1f1f">400</text>
<line x1="545.40" y1="767.80" x2="551.00" y2="767.80" stroke="#4a4a4a" stroke-width="1.0"/>
<text x="542.60" y="771.76" font-size="11" text-anchor="end" font-weight="normal" fill="#1f1f1f">500</text>
<line x1="551.00" y1="897.60" x2="685.00" y2="897.60" stroke="#4a4a4a" stroke-width="1.0"/>
<line x1="568.20" y1="897.60" x2="568.20" y2="903.10" stroke="#4a4a4a" stroke-width="1.0"/>
<line x1="594.80" y1="897.60" x2="594.80" y2="903.10" stroke="#4a4a4a" stroke-width="1.0"/>
<line x1="639.50" y1="897.60" x2="639.50" y2="903.10" stroke="#4a4a4a" stroke-width="1.0"/>
<line x1="666.40" y1="897.60" x2="666.40" y2="903.10" stroke="#4a4a4a" stroke-width="1.0"/>
<text x="512.90" y="838.26" font-size="11" text-anchor="middle" font-weight="normal" fill="#1f1f1f" transform="rotate(-90 512.90 834.30)">Amplitude (Δ F/F)</text>
<text x="568.10" y="914.96" font-size="11" text-anchor="middle" font-weight="normal" fill="#1f1f1f">Ctrl</text>
<text x="595.10" y="914.96" font-size="11" text-anchor="middle" font-weight="normal" fill="#1f1f1f">H69</text>
<text x="639.00" y="914.96" font-size="11" text-anchor="middle" font-weight="normal" fill="#1f1f1f">Ctrl</text>
<text x="665.80" y="914.96" font-size="11" text-anchor="middle" font-weight="normal" fill="#1f1f1f">H69</text>
<rect x="521.3" y="745.0" width="17.9" height="9.2" fill="none" stroke="#333" stroke-width="1"/>
<text x="545.70" y="753.66" font-size="11" text-anchor="start" font-weight="normal" fill="#1f1f1f">DMSO</text>
<rect x="591.7" y="745.0" width="17.9" height="9.2" fill="none" stroke="#b06ad0" stroke-width="1"/>
<text x="616.70" y="753.66" font-size="11" text-anchor="start" font-weight="normal" fill="#1f1f1f">Bicuculline</text>
<rect x="559.20" y="842.30" width="17.40" height="31.70" fill="none" stroke="#333" stroke-width="1.0"/>
<line x1="559.20" y1="865.10" x2="576.60" y2="865.10" stroke="#333" stroke-width="1.0"/>
<line x1="568.20" y1="792.20" x2="568.20" y2="842.30" stroke="#333" stroke-width="1.0"/>
<line x1="564.20" y1="792.20" x2="572.20" y2="792.20" stroke="#333" stroke-width="1.0"/>
<line x1="568.20" y1="874.00" x2="568.20" y2="886.80" stroke="#333" stroke-width="1.0"/>
<line x1="564.20" y1="886.80" x2="572.20" y2="886.80" stroke="#333" stroke-width="1.0"/>
<rect x="586.50" y="867.00" width="17.20" height="14.30" fill="none" stroke="#333" stroke-width="1.0"/>
<line x1="586.50" y1="876.00" x2="603.70" y2="876.00" stroke="#333" stroke-width="1.0"/>
<line x1="594.80" y1="851.00" x2="594.80" y2="867.00" stroke="#333" stroke-width="1.0"/>
<line x1="590.80" y1="851.00" x2="598.80" y2="851.00" stroke="#333" stroke-width="1.0"/>
<line x1="594.80" y1="881.30" x2="594.80" y2="889.40" stroke="#333" stroke-width="1.0"/>
<line x1="590.80" y1="889.40" x2="598.80" y2="889.40" stroke="#333" stroke-width="1.0"/>
<rect x="630.40" y="849.30" width="18.00" height="31.70" fill="none" stroke="#b06ad0" stroke-width="1.0"/>
<line x1="630.40" y1="862.20" x2="648.40" y2="862.20" stroke="#b06ad0" stroke-width="1.0"/>
<line x1="639.50" y1="787.30" x2="639.50" y2="849.30" stroke="#b06ad0" stroke-width="1.0"/>
<line x1="635.50" y1="787.30" x2="643.50" y2="787.30" stroke="#b06ad0" stroke-width="1.0"/>
<line x1="639.50" y1="881.00" x2="639.50" y2="891.10" stroke="#b06ad0" stroke-width="1.0"/>
<line x1="635.50" y1="891.10" x2="643.50" y2="891.10" stroke="#b06ad0" stroke-width="1.0"/>
<rect x="657.50" y="864.40" width="18.00" height="18.00" fill="none" stroke="#b06ad0" stroke-width="1.0"/>
<line x1="657.50" y1="881.70" x2="675.50" y2="881.70" stroke="#b06ad0" stroke-width="1.0"/>
<line x1="666.40" y1="845.00" x2="666.40" y2="864.40" stroke="#b06ad0" stroke-width="1.0"/>
<line x1="662.40" y1="845.00" x2="670.40" y2="845.00" stroke="#b06ad0" stroke-width="1.0"/>
<line x1="666.40" y1="882.40" x2="666.40" y2="893.50" stroke="#b06ad0" stroke-width="1.0"/>
<line x1="662.40" y1="893.50" x2="670.40" y2="893.50" stroke="#b06ad0" stroke-width="1.0"/>
<circle cx="568.20" cy="792.20" r="2.15" fill="#0a0a0a"/>
<circle cx="566.60" cy="803.30" r="2.15" fill="#0a0a0a"/>
<circle cx="569.80" cy="806.50" r="2.15" fill="#0a0a0a"/>
<circle cx="566.60" cy="827.60" r="2.15" fill="#0a0a0a"/>
<circle cx="569.80" cy="827.60" r="2.15" fill="#0a0a0a"/>
<circle cx="568.20" cy="835.00" r="2.15" fill="#0a0a0a"/>
<circle cx="568.20" cy="840.10" r="2.15" fill="#0a0a0a"/>
<circle cx="568.20" cy="847.20" r="2.15" fill="#0a0a0a"/>
<circle cx="564.10" cy="854.90" r="2.15" fill="#0a0a0a"/>
<circle cx="566.90" cy="854.00" r="2.15" fill="#0a0a0a"/>
<circle cx="569.80" cy="857.40" r="2.15" fill="#0a0a0a"/>
<circle cx="566.60" cy="857.40" r="2.15" fill="#0a0a0a"/>
<circle cx="563.40" cy="864.50" r="2.15" fill="#0a0a0a"/>
<circle cx="569.20" cy="863.80" r="2.15" fill="#0a0a0a"/>
<circle cx="575.00" cy="864.70" r="2.15" fill="#0a0a0a"/>
<circle cx="561.50" cy="870.20" r="2.15" fill="#0a0a0a"/>
<circle cx="566.60" cy="869.60" r="2.15" fill="#0a0a0a"/>
<circle cx="572.40" cy="868.30" r="2.15" fill="#0a0a0a"/>
<circle cx="575.60" cy="869.60" r="2.15" fill="#0a0a0a"/>
<circle cx="561.50" cy="874.70" r="2.15" fill="#0a0a0a"/>
<circle cx="566.60" cy="874.00" r="2.15" fill="#0a0a0a"/>
<circle cx="571.80" cy="874.70" r="2.15" fill="#0a0a0a"/>
<circle cx="564.10" cy="877.90" r="2.15" fill="#0a0a0a"/>
<circle cx="569.20" cy="877.90" r="2.15" fill="#0a0a0a"/>
<circle cx="572.40" cy="877.90" r="2.15" fill="#0a0a0a"/>
<circle cx="567.90" cy="882.40" r="2.15" fill="#0a0a0a"/>
<circle cx="568.20" cy="886.80" r="2.15" fill="#0a0a0a"/>
<circle cx="560.50" cy="867.00" r="2.15" fill="#0a0a0a"/>
<circle cx="574.00" cy="873.00" r="2.15" fill="#0a0a0a"/>
<circle cx="596.00" cy="851.00" r="2.15" fill="#0a0a0a"/>
<circle cx="593.50" cy="854.90" r="2.15" fill="#0a0a0a"/>
<circle cx="590.80" cy="863.80" r="2.15" fill="#0a0a0a"/>
<circle cx="599.30" cy="861.90" r="2.15" fill="#0a0a0a"/>
<circle cx="601.50" cy="866.00" r="2.15" fill="#0a0a0a"/>
<circle cx="592.00" cy="867.50" r="2.15" fill="#0a0a0a"/>
<circle cx="597.00" cy="869.00" r="2.15" fill="#0a0a0a"/>
<circle cx="588.50" cy="872.00" r="2.15" fill="#0a0a0a"/>
<circle cx="593.00" cy="872.50" r="2.15" fill="#0a0a0a"/>
<circle cx="598.00" cy="872.00" r="2.15" fill="#0a0a0a"/>
<circle cx="602.50" cy="873.00" r="2.15" fill="#0a0a0a"/>
<circle cx="589.50" cy="876.50" r="2.15" fill="#0a0a0a"/>
<circle cx="594.00" cy="877.00" r="2.15" fill="#0a0a0a"/>
<circle cx="599.00" cy="876.50" r="2.15" fill="#0a0a0a"/>
<circle cx="603.00" cy="877.50" r="2.15" fill="#0a0a0a"/>
<circle cx="590.50" cy="880.50" r="2.15" fill="#0a0a0a"/>
<circle cx="595.00" cy="881.00" r="2.15" fill="#0a0a0a"/>
<circle cx="600.00" cy="880.50" r="2.15" fill="#0a0a0a"/>
<circle cx="591.00" cy="884.50" r="2.15" fill="#0a0a0a"/>
<circle cx="595.50" cy="885.00" r="2.15" fill="#0a0a0a"/>
<circle cx="600.50" cy="884.00" r="2.15" fill="#0a0a0a"/>
<circle cx="593.00" cy="888.00" r="2.15" fill="#0a0a0a"/>
<circle cx="597.00" cy="887.50" r="2.15" fill="#0a0a0a"/>
<circle cx="594.30" cy="889.50" r="2.15" fill="#0a0a0a"/>
<circle cx="588.00" cy="866.00" r="2.15" fill="#0a0a0a"/>
<circle cx="592.00" cy="863.00" r="2.15" fill="#0a0a0a"/>
<circle cx="596.00" cy="866.00" r="2.15" fill="#0a0a0a"/>
<circle cx="600.00" cy="864.00" r="2.15" fill="#0a0a0a"/>
<circle cx="589.00" cy="870.00" r="2.15" fill="#0a0a0a"/>
<circle cx="593.00" cy="874.00" r="2.15" fill="#0a0a0a"/>
<circle cx="597.00" cy="870.00" r="2.15" fill="#0a0a0a"/>
<circle cx="601.00" cy="869.00" r="2.15" fill="#0a0a0a"/>
<circle cx="590.00" cy="878.00" r="2.15" fill="#0a0a0a"/>
<circle cx="596.00" cy="879.00" r="2.15" fill="#0a0a0a"/>
<circle cx="600.00" cy="876.00" r="2.15" fill="#0a0a0a"/>
<circle cx="592.00" cy="882.00" r="2.15" fill="#0a0a0a"/>
<circle cx="598.00" cy="883.00" r="2.15" fill="#0a0a0a"/>
<circle cx="594.00" cy="886.00" r="2.15" fill="#0a0a0a"/>
<circle cx="590.00" cy="889.00" r="2.15" fill="#0a0a0a"/>
<circle cx="597.00" cy="890.00" r="2.15" fill="#0a0a0a"/>
<circle cx="639.50" cy="787.30" r="2.15" fill="#0a0a0a"/>
<circle cx="639.50" cy="845.00" r="2.15" fill="#0a0a0a"/>
<circle cx="646.70" cy="843.20" r="2.15" fill="#0a0a0a"/>
<circle cx="639.50" cy="849.30" r="2.15" fill="#0a0a0a"/>
<circle cx="633.00" cy="855.80" r="2.15" fill="#0a0a0a"/>
<circle cx="646.70" cy="855.80" r="2.15" fill="#0a0a0a"/>
<circle cx="639.50" cy="857.90" r="2.15" fill="#0a0a0a"/>
<circle cx="639.50" cy="863.00" r="2.15" fill="#0a0a0a"/>
<circle cx="639.50" cy="868.00" r="2.15" fill="#0a0a0a"/>
<circle cx="639.50" cy="873.50" r="2.15" fill="#0a0a0a"/>
<circle cx="635.90" cy="881.00" r="2.15" fill="#0a0a0a"/>
<circle cx="643.10" cy="881.00" r="2.15" fill="#0a0a0a"/>
<circle cx="639.50" cy="888.90" r="2.15" fill="#0a0a0a"/>
<circle cx="633.00" cy="891.10" r="2.15" fill="#0a0a0a"/>
<circle cx="646.70" cy="889.90" r="2.15" fill="#0a0a0a"/>
<circle cx="666.40" cy="845.00" r="2.15" fill="#0a0a0a"/>
<circle cx="665.00" cy="855.80" r="2.15" fill="#0a0a0a"/>
<circle cx="667.60" cy="854.80" r="2.15" fill="#0a0a0a"/>
<circle cx="666.80" cy="861.50" r="2.15" fill="#0a0a0a"/>
<circle cx="665.00" cy="865.10" r="2.15" fill="#0a0a0a"/>
<circle cx="665.00" cy="869.70" r="2.15" fill="#0a0a0a"/>
<circle cx="667.60" cy="873.50" r="2.15" fill="#0a0a0a"/>
<circle cx="664.70" cy="878.10" r="2.15" fill="#0a0a0a"/>
<circle cx="667.60" cy="878.10" r="2.15" fill="#0a0a0a"/>
<circle cx="658.90" cy="885.30" r="2.15" fill="#0a0a0a"/>
<circle cx="664.00" cy="886.50" r="2.15" fill="#0a0a0a"/>
<circle cx="669.00" cy="886.50" r="2.15" fill="#0a0a0a"/>
<circle cx="673.30" cy="885.30" r="2.15" fill="#0a0a0a"/>
<circle cx="663.20" cy="888.90" r="2.15" fill="#0a0a0a"/>
<circle cx="669.00" cy="888.90" r="2.15" fill="#0a0a0a"/>
<circle cx="663.20" cy="893.70" r="2.15" fill="#0a0a0a"/>
<circle cx="669.00" cy="893.20" r="2.15" fill="#0a0a0a"/>
<circle cx="661.00" cy="887.00" r="2.15" fill="#0a0a0a"/>
<circle cx="671.50" cy="887.50" r="2.15" fill="#0a0a0a"/>
<path d="M568.20 783.80 L568.20 771.80 L594.80 771.80 L594.80 843.00" stroke="#4a4a4a" stroke-width="1.0" fill="none" stroke-linejoin="round"/>
<text x="581.20" y="769.16" font-size="11" text-anchor="middle" font-weight="normal" fill="#1f1f1f">0.0047</text>
<path d="M639.50 779.60 L639.50 771.80 L666.40 771.80 L666.40 837.00" stroke="#4a4a4a" stroke-width="1.0" fill="none" stroke-linejoin="round"/>
<text x="652.70" y="769.16" font-size="11" text-anchor="middle" font-weight="normal" fill="#1f1f1f">0.0812</text>
</svg></body></html>
